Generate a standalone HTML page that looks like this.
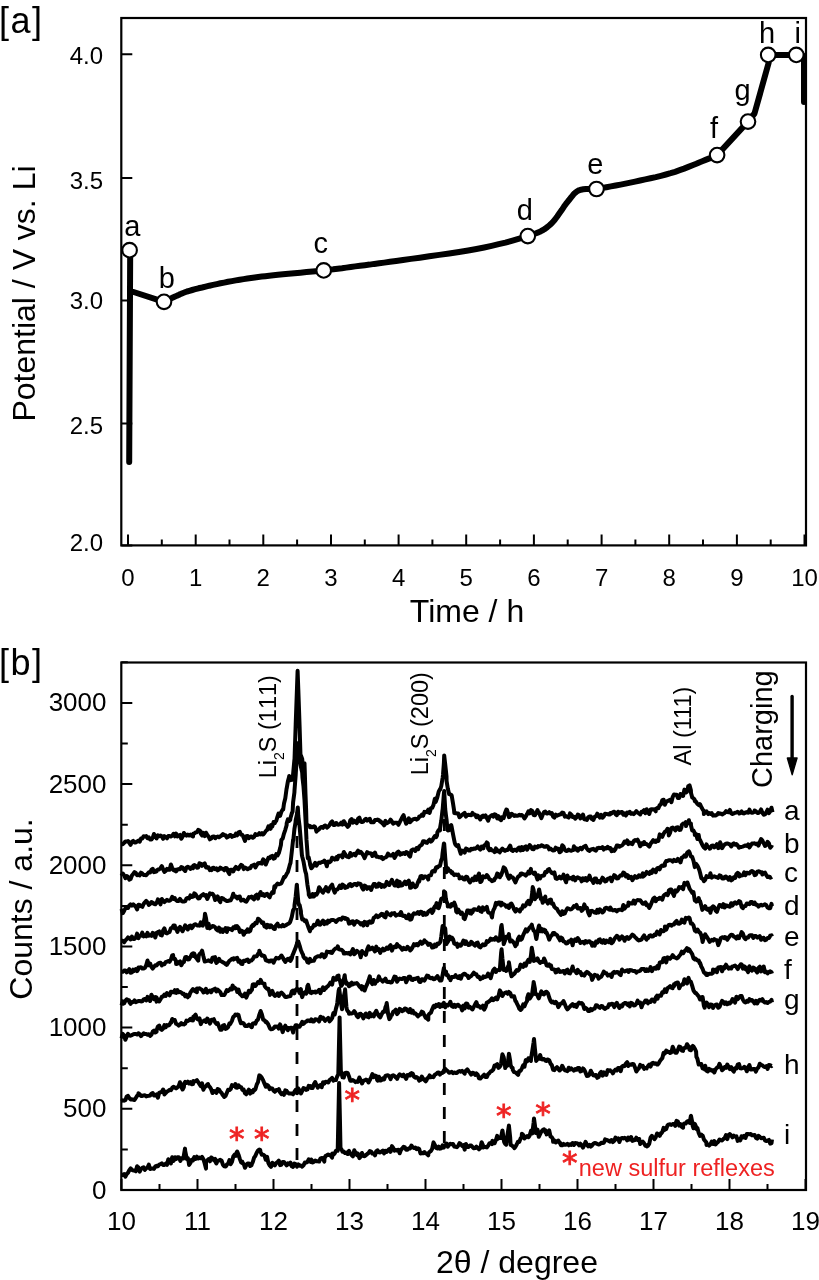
<!DOCTYPE html>
<html><head><meta charset="utf-8"><style>
html,body{margin:0;padding:0;background:#fff;}
svg{display:block;}
text{font-family:"Liberation Sans", Arial, Helvetica, sans-serif;fill:#000;}
.tl{font-size:24px;}
.tl2{font-size:26px;}
.ax{font-size:32px;}
.pl{font-size:36px;letter-spacing:1.5px;}
.lb{font-size:29px;}
.an{font-size:23.5px;font-kerning:none;}
.cb{font-size:28px;}
.cb2{font-size:23.5px;}
.cb3{font-size:29px;}
.ast{font-family:"DejaVu Sans",sans-serif;font-size:31px;fill:#ee2222;stroke:#ee2222;stroke-width:0.9px;}
.nsr{font-size:23.5px;fill:#ee2222;}
</style></head><body>
<svg width="819" height="1280" viewBox="0 0 819 1280">
<rect width="819" height="1280" fill="#fff"/>
<rect x="121.3" y="18.0" width="684.7" height="527.4" fill="none" stroke="#000" stroke-width="2.2"/>
<path d="M128.0 545.4V534.4M161.8 545.4V539.4M195.7 545.4V534.4M229.5 545.4V539.4M263.3 545.4V534.4M297.1 545.4V539.4M331.0 545.4V534.4M364.8 545.4V539.4M398.6 545.4V534.4M432.4 545.4V539.4M466.2 545.4V534.4M500.1 545.4V539.4M533.9 545.4V534.4M567.7 545.4V539.4M601.6 545.4V534.4M635.4 545.4V539.4M669.2 545.4V534.4M703.0 545.4V539.4M736.9 545.4V534.4M770.7 545.4V539.4M804.5 545.4V534.4M121.3 545.4H132.3M121.3 423.6H132.3M121.3 300.5H132.3M121.3 178.1H132.3M121.3 54.3H132.3" stroke="#000" stroke-width="2" fill="none"/>
<text x="128.0" y="586" text-anchor="middle" class="tl">0</text>
<text x="195.7" y="586" text-anchor="middle" class="tl">1</text>
<text x="263.3" y="586" text-anchor="middle" class="tl">2</text>
<text x="331.0" y="586" text-anchor="middle" class="tl">3</text>
<text x="398.6" y="586" text-anchor="middle" class="tl">4</text>
<text x="466.2" y="586" text-anchor="middle" class="tl">5</text>
<text x="533.9" y="586" text-anchor="middle" class="tl">6</text>
<text x="601.6" y="586" text-anchor="middle" class="tl">7</text>
<text x="669.2" y="586" text-anchor="middle" class="tl">8</text>
<text x="736.9" y="586" text-anchor="middle" class="tl">9</text>
<text x="804.5" y="586" text-anchor="middle" class="tl">10</text>
<text x="103" y="550.5" text-anchor="end" class="tl">2.0</text>
<text x="103" y="434.2" text-anchor="end" class="tl">2.5</text>
<text x="103" y="308.5" text-anchor="end" class="tl">3.0</text>
<text x="103" y="188.9" text-anchor="end" class="tl">3.5</text>
<text x="103" y="63.5" text-anchor="end" class="tl">4.0</text>
<text x="467" y="622" text-anchor="middle" class="ax">Time / h</text>
<text transform="translate(35,293.5) rotate(-90)" text-anchor="middle" class="ax">Potential / V vs. Li</text>
<text x="-1" y="33" class="pl">[a]</text>
<path d="M129.2 462 L130.2 250 M130.5 291 L164 301.8 M164.0 301.8 L164.9 301.4 L166.0 300.8 L167.4 300.1 L168.9 299.4 L170.6 298.6 L172.3 297.8 L174.0 297.0 L175.6 296.3 L177.1 295.6 L178.6 295.0 L180.0 294.3 L181.5 293.6 L183.1 293.0 L184.9 292.3 L187.0 291.5 L189.4 290.8 L192.2 290.0 L195.2 289.2 L198.5 288.3 L202.1 287.5 L205.7 286.6 L209.4 285.7 L213.1 284.9 L216.8 284.1 L220.5 283.3 L224.2 282.6 L228.0 281.8 L231.9 281.1 L235.8 280.4 L239.7 279.7 L243.6 279.1 L247.4 278.5 L251.1 278.0 L254.7 277.5 L258.2 277.0 L261.7 276.6 L265.3 276.2 L269.2 275.7 L273.4 275.3 L277.9 274.8 L283.0 274.3 L288.5 273.8 L294.4 273.2 L300.4 272.7 L306.5 272.1 L312.6 271.5 L318.3 271.0 L323.7 270.4 L328.6 269.8 L333.3 269.3 L337.7 268.7 L342.0 268.2 L346.3 267.6 L350.7 267.0 L355.2 266.4 L360.0 265.8 L364.8 265.2 L369.6 264.6 L374.3 263.9 L379.2 263.3 L384.3 262.6 L389.9 261.8 L396.1 261.0 L403.0 260.0 L410.9 258.9 L419.8 257.7 L429.3 256.3 L439.2 254.9 L449.2 253.5 L459.0 252.0 L468.2 250.5 L476.5 249.0 L484.2 247.5 L491.6 245.9 L498.7 244.2 L505.4 242.6 L511.7 240.9 L517.6 239.2 L522.9 237.6 L527.8 236.1 L532.0 234.7 L535.4 233.5 L538.4 232.4 L540.9 231.2 L543.1 230.0 L545.3 228.6 L547.4 227.0 L549.8 225.0 L552.3 222.6 L554.8 219.7 L557.2 216.5 L559.6 213.1 L561.9 209.8 L564.0 206.6 L566.1 203.7 L568.0 201.3 L569.7 199.3 L571.1 197.4 L572.4 195.8 L573.5 194.4 L574.7 193.2 L576.0 192.1 L577.4 191.1 L579.0 190.3 L581.0 189.7 L583.3 189.3 L585.9 189.0 L588.4 189.0 L590.9 189.0 L593.2 189.0 L595.1 189.0 L596.5 189.0 M596.5 189.0 L599.1 188.5 L602.4 187.9 L606.4 187.2 L610.9 186.4 L615.7 185.5 L620.6 184.6 L625.5 183.6 L630.3 182.6 L635.1 181.6 L640.1 180.5 L645.3 179.4 L650.5 178.3 L655.8 177.1 L660.9 175.8 L665.9 174.5 L670.6 173.2 L675.1 171.8 L679.7 170.2 L684.1 168.6 L688.4 166.9 L692.5 165.2 L696.3 163.7 L699.8 162.2 L702.9 161.0 L705.6 159.9 L708.1 158.9 L710.2 158.1 L712.0 157.3 L713.6 156.6 L715.0 156.0 L716.1 155.5 L717.1 155.1 L748 121.6 L754.5 113.5 L768.6 63 L768.2 54.9 L796.3 54.9 L804 56 L804 102" fill="none" stroke="#000" stroke-width="6" stroke-linejoin="round" stroke-linecap="round"/>
<circle cx="129.6" cy="250.2" r="7.3" fill="#fff" stroke="#000" stroke-width="2.1"/>
<circle cx="164" cy="301.8" r="7.3" fill="#fff" stroke="#000" stroke-width="2.1"/>
<circle cx="323.7" cy="270.4" r="7.3" fill="#fff" stroke="#000" stroke-width="2.1"/>
<circle cx="527.8" cy="236.1" r="7.3" fill="#fff" stroke="#000" stroke-width="2.1"/>
<circle cx="596.5" cy="189" r="7.3" fill="#fff" stroke="#000" stroke-width="2.1"/>
<circle cx="717.1" cy="155.1" r="7.3" fill="#fff" stroke="#000" stroke-width="2.1"/>
<circle cx="748" cy="121.6" r="7.3" fill="#fff" stroke="#000" stroke-width="2.1"/>
<circle cx="768.2" cy="54.9" r="7.3" fill="#fff" stroke="#000" stroke-width="2.1"/>
<circle cx="796.3" cy="54.9" r="7.3" fill="#fff" stroke="#000" stroke-width="2.1"/>
<text x="132.2" y="236" text-anchor="middle" class="lb">a</text>
<text x="166.7" y="287.5" text-anchor="middle" class="lb">b</text>
<text x="320.8" y="253.3" text-anchor="middle" class="lb">c</text>
<text x="524.8" y="219.5" text-anchor="middle" class="lb">d</text>
<text x="595.3" y="173.8" text-anchor="middle" class="lb">e</text>
<text x="714" y="138" text-anchor="middle" class="lb">f</text>
<text x="742.5" y="99.5" text-anchor="middle" class="lb">g</text>
<text x="767" y="42.8" text-anchor="middle" class="lb">h</text>
<text x="797.7" y="42.8" text-anchor="middle" class="lb">i</text>
<rect x="121.3" y="662.5" width="684.7" height="527.5" fill="none" stroke="#000" stroke-width="2.2"/>
<path d="M121.5 1190.0V1179.0M159.5 1190.0V1184.0M197.5 1190.0V1179.0M235.5 1190.0V1184.0M273.5 1190.0V1179.0M311.5 1190.0V1184.0M349.5 1190.0V1179.0M387.5 1190.0V1184.0M425.5 1190.0V1179.0M463.5 1190.0V1184.0M501.5 1190.0V1179.0M539.5 1190.0V1184.0M577.5 1190.0V1179.0M615.5 1190.0V1184.0M653.5 1190.0V1179.0M691.5 1190.0V1184.0M729.5 1190.0V1179.0M767.5 1190.0V1184.0M805.5 1190.0V1179.0M121.3 1190.0H132.3M121.3 1149.4H127.8M121.3 1108.8H132.3M121.3 1068.2H127.8M121.3 1027.6H132.3M121.3 987.0H127.8M121.3 946.5H132.3M121.3 905.9H127.8M121.3 865.3H132.3M121.3 824.7H127.8M121.3 784.1H132.3M121.3 743.5H127.8M121.3 702.9H132.3M121.3 662.3H127.8" stroke="#000" stroke-width="2" fill="none"/>
<text x="121.5" y="1230" text-anchor="middle" class="tl2">10</text>
<text x="197.5" y="1230" text-anchor="middle" class="tl2">11</text>
<text x="273.5" y="1230" text-anchor="middle" class="tl2">12</text>
<text x="349.5" y="1230" text-anchor="middle" class="tl2">13</text>
<text x="425.5" y="1230" text-anchor="middle" class="tl2">14</text>
<text x="501.5" y="1230" text-anchor="middle" class="tl2">15</text>
<text x="577.5" y="1230" text-anchor="middle" class="tl2">16</text>
<text x="653.5" y="1230" text-anchor="middle" class="tl2">17</text>
<text x="729.5" y="1230" text-anchor="middle" class="tl2">18</text>
<text x="805.5" y="1230" text-anchor="middle" class="tl2">19</text>
<text x="106.5" y="1198.5" text-anchor="end" class="tl2">0</text>
<text x="106.5" y="1117.3" text-anchor="end" class="tl2">500</text>
<text x="106.5" y="1036.1" text-anchor="end" class="tl2">1000</text>
<text x="106.5" y="955.0" text-anchor="end" class="tl2">1500</text>
<text x="106.5" y="873.8" text-anchor="end" class="tl2">2000</text>
<text x="106.5" y="792.6" text-anchor="end" class="tl2">2500</text>
<text x="106.5" y="711.4" text-anchor="end" class="tl2">3000</text>
<text x="517" y="1272.8" text-anchor="middle" class="ax">2θ / degree</text>
<text transform="translate(32,909) rotate(-90)" text-anchor="middle" class="ax">Counts / a.u.</text>
<text x="-1" y="674.5" class="pl">[b]</text>
<path d="M297 812 V1160" stroke="#000" stroke-width="2.8" stroke-dasharray="12 12" fill="none"/>
<path d="M444.3 795 V1143" stroke="#000" stroke-width="2.8" stroke-dasharray="12 12" fill="none"/>
<path d="M121.5 844.0 L122.8 844.2 L124.1 842.8 L125.4 841.4 L126.7 841.6 L128.0 841.0 L129.3 842.9 L130.6 844.8 L131.9 841.7 L133.2 840.9 L134.5 842.6 L135.8 842.5 L137.1 841.4 L138.3 840.7 L138.4 841.0 L139.7 841.7 L141.0 838.4 L142.3 838.5 L143.6 836.3 L144.9 836.4 L146.2 836.1 L147.5 838.2 L148.8 837.4 L150.1 839.5 L151.4 839.6 L152.7 837.8 L154.0 834.0 L155.3 836.7 L156.6 838.2 L156.6 838.4 L157.9 835.4 L159.2 836.3 L160.5 835.6 L161.8 836.3 L163.1 838.8 L164.4 836.2 L165.7 837.1 L167.0 838.3 L168.3 836.0 L169.6 836.1 L170.9 836.5 L172.2 835.8 L173.5 833.8 L174.8 835.9 L175.0 836.3 L176.1 833.6 L177.4 836.5 L178.7 835.6 L180.0 834.9 L181.3 838.8 L182.6 836.7 L183.9 833.0 L185.2 834.6 L186.5 835.6 L187.8 834.6 L189.1 835.5 L190.4 834.6 L191.7 835.8 L193.0 836.5 L193.3 833.7 L194.3 833.5 L195.6 832.4 L196.9 832.3 L198.2 829.9 L199.5 830.3 L200.6 831.4 L200.8 833.8 L202.1 835.4 L203.4 832.9 L204.0 835.5 L204.7 836.2 L206.0 832.7 L207.3 834.8 L208.6 836.7 L209.9 839.3 L211.2 838.6 L212.5 836.7 L213.8 836.4 L215.1 837.5 L215.2 838.3 L216.4 837.0 L217.7 836.5 L219.0 837.3 L220.3 836.4 L221.6 835.5 L222.9 834.0 L224.2 835.2 L225.5 835.3 L226.8 837.6 L228.1 836.8 L229.4 835.4 L229.9 835.1 L230.7 835.0 L232.0 836.9 L233.3 835.9 L234.6 836.1 L235.9 833.7 L237.2 835.3 L238.5 832.3 L239.8 831.8 L241.1 834.8 L242.4 834.9 L243.7 837.7 L245.0 840.9 L246.3 836.3 L247.6 836.0 L248.2 837.6 L248.9 838.2 L250.2 836.8 L251.5 836.5 L252.8 837.8 L254.1 836.9 L255.4 834.1 L256.7 834.9 L258.0 834.8 L259.3 833.1 L260.6 834.3 L261.9 833.2 L262.9 834.5 L263.2 834.6 L264.5 833.0 L265.8 831.0 L267.1 830.0 L268.4 826.3 L269.7 826.9 L270.6 828.8 L271.0 825.0 L272.3 826.5 L273.6 822.0 L274.9 823.0 L275.3 821.7 L276.2 821.0 L277.5 816.6 L278.5 813.6 L278.8 816.2 L280.1 815.8 L281.4 811.7 L282.7 809.5 L283.2 809.4 L284.0 803.4 L285.3 798.3 L286.6 788.5 L286.7 788.3 L287.9 781.3 L289.0 777.4 L289.2 776.0 L290.5 780.2 L291.8 779.5 L292.6 779.7 L293.1 774.3 L294.4 759.6 L294.5 759.7 L295.7 724.4 L297.0 687.9 L297.6 670.8 L298.3 689.3 L299.0 709.1 L299.6 726.6 L300.5 755.7 L300.9 755.4 L302.2 758.9 L302.5 762.2 L303.5 765.1 L304.5 763.3 L304.8 772.1 L305.5 794.4 L306.1 809.1 L306.5 823.9 L307.4 824.8 L308.7 825.7 L310.0 825.9 L310.1 827.3 L311.3 826.8 L312.6 827.3 L313.9 826.2 L315.2 827.2 L316.5 831.6 L317.5 830.2 L317.8 830.4 L319.1 829.2 L320.4 827.5 L321.7 826.9 L323.0 827.8 L324.3 825.8 L325.3 825.5 L325.6 826.0 L326.9 827.6 L328.2 826.6 L329.5 825.2 L330.8 822.6 L332.1 821.3 L333.4 824.9 L334.7 825.0 L336.0 822.9 L336.3 822.9 L337.3 824.5 L338.6 824.7 L339.9 824.3 L341.2 822.6 L342.5 824.6 L343.8 821.2 L345.0 822.9 L345.1 824.1 L346.4 825.0 L347.7 826.8 L349.0 825.4 L350.3 820.2 L351.6 819.1 L352.9 822.7 L354.2 820.7 L355.5 822.1 L356.8 823.1 L358.1 818.6 L359.4 817.7 L360.7 821.7 L362.0 822.1 L363.0 821.9 L363.3 821.6 L364.6 819.9 L365.9 818.8 L367.2 820.7 L368.5 819.5 L369.8 818.8 L371.1 822.3 L372.4 822.2 L373.7 822.3 L375.0 820.1 L376.3 820.0 L377.6 819.6 L378.9 820.1 L380.2 821.7 L381.0 821.6 L381.5 822.5 L382.8 823.6 L384.1 825.4 L385.4 820.8 L386.7 823.3 L388.0 822.5 L389.3 821.8 L390.6 819.6 L391.9 821.4 L393.2 823.7 L394.5 822.8 L395.8 822.7 L397.1 822.7 L398.4 824.8 L399.7 822.4 L400.0 821.6 L401.0 819.8 L402.3 817.2 L403.6 815.2 L404.9 820.1 L406.2 823.7 L407.5 821.3 L408.8 818.4 L410.0 820.1 L410.1 822.3 L411.4 820.8 L412.7 819.6 L414.0 818.9 L415.3 818.8 L416.6 819.6 L417.9 818.8 L419.2 817.1 L419.2 816.4 L420.5 816.4 L421.8 814.7 L423.1 815.8 L424.4 811.8 L425.7 812.2 L427.0 811.6 L428.3 809.7 L428.3 812.4 L429.6 812.9 L430.9 808.2 L432.2 807.9 L433.5 804.9 L434.8 798.8 L435.6 802.1 L436.1 800.9 L437.4 797.0 L438.7 791.6 L440.0 789.1 L440.2 789.5 L441.3 786.0 L442.6 778.0 L443.0 775.0 L443.9 763.0 L444.2 755.4 L445.2 764.3 L446.5 776.4 L446.6 781.1 L447.8 788.5 L449.1 794.0 L449.4 793.6 L450.4 794.6 L451.5 795.1 L451.7 795.7 L453.0 803.3 L454.0 809.8 L454.3 813.0 L455.6 813.2 L456.9 813.2 L457.6 813.8 L458.2 813.5 L459.5 817.3 L460.8 816.2 L462.1 814.9 L463.4 813.9 L464.7 812.9 L465.0 815.0 L466.0 816.6 L467.3 814.9 L468.6 814.8 L469.9 815.1 L471.2 815.2 L472.5 812.9 L473.8 814.6 L475.1 814.8 L476.4 817.2 L477.7 815.5 L479.0 817.8 L480.3 819.5 L481.6 816.5 L482.9 815.7 L483.3 816.9 L484.2 816.6 L485.5 815.3 L486.8 818.1 L488.1 820.7 L489.4 817.1 L490.7 816.0 L492.0 815.0 L493.3 816.6 L494.6 814.3 L495.9 814.9 L497.2 818.4 L498.5 816.2 L499.8 819.1 L501.1 820.2 L501.6 817.3 L502.4 817.8 L503.7 818.1 L505.0 813.0 L506.3 809.6 L507.0 809.7 L507.6 811.7 L508.9 817.1 L510.0 816.6 L510.2 814.3 L511.5 813.7 L512.8 814.6 L514.1 815.9 L515.4 815.3 L516.7 815.8 L518.0 815.8 L519.3 814.7 L520.0 815.1 L520.6 815.4 L521.9 815.0 L523.2 816.4 L524.5 818.5 L525.8 816.4 L527.1 814.1 L528.4 811.4 L529.7 813.4 L531.0 810.1 L532.3 810.9 L533.6 815.0 L534.9 815.2 L536.2 812.8 L537.5 810.1 L538.2 812.8 L538.8 812.2 L540.1 815.3 L541.4 818.1 L542.7 814.7 L544.0 812.1 L545.3 811.5 L546.6 813.5 L547.9 813.4 L549.2 812.2 L550.5 813.8 L551.8 813.0 L553.1 816.7 L554.4 817.6 L555.0 815.6 L555.7 814.7 L557.0 815.8 L558.3 815.1 L559.6 814.5 L560.9 814.2 L562.2 812.6 L563.5 813.0 L564.8 816.7 L566.1 816.1 L567.4 816.9 L568.7 817.6 L570.0 813.4 L571.3 814.6 L572.6 816.9 L573.3 817.0 L573.9 816.7 L575.2 818.7 L576.5 817.3 L577.8 814.5 L579.1 815.2 L580.4 818.4 L581.7 817.6 L583.0 814.5 L584.3 819.3 L585.6 819.5 L586.9 820.0 L588.2 817.2 L589.5 816.5 L590.8 816.5 L591.6 818.9 L592.1 818.9 L593.4 820.0 L594.7 816.7 L596.0 816.4 L597.3 813.7 L598.6 815.7 L599.9 817.6 L601.2 814.8 L602.5 817.6 L603.8 816.5 L605.1 813.7 L606.4 813.9 L607.7 814.2 L609.0 814.6 L610.0 814.5 L610.3 813.0 L611.6 813.5 L612.9 812.1 L614.2 811.7 L615.5 814.1 L616.8 815.2 L618.1 811.7 L619.4 813.1 L620.7 812.3 L622.0 812.0 L623.3 814.6 L624.6 813.4 L625.9 815.6 L627.2 812.5 L628.3 813.2 L628.5 812.5 L629.8 811.9 L631.1 813.8 L632.4 813.3 L633.7 814.1 L635.0 812.8 L636.3 811.1 L637.6 812.5 L638.9 813.5 L640.2 814.5 L641.5 811.8 L642.8 812.0 L644.1 810.2 L645.4 813.2 L646.6 812.4 L646.7 809.3 L648.0 812.4 L649.3 814.0 L650.6 809.5 L651.9 809.2 L653.2 809.6 L654.5 809.3 L655.7 811.3 L655.8 809.6 L657.1 808.0 L658.4 808.2 L659.7 805.0 L661.0 804.4 L661.2 803.4 L662.3 800.1 L663.6 799.7 L664.9 804.7 L666.2 801.7 L667.5 801.2 L668.8 800.3 L670.1 799.8 L670.4 799.7 L671.4 802.2 L672.7 796.9 L674.0 794.6 L675.3 794.8 L676.6 794.8 L677.9 798.0 L679.2 797.9 L680.5 794.0 L681.4 794.8 L681.8 794.8 L683.1 796.0 L684.4 789.6 L685.7 792.6 L686.0 792.6 L687.0 791.7 L688.3 786.0 L688.8 786.0 L689.6 785.4 L690.9 790.2 L691.0 793.0 L692.2 797.4 L693.5 798.3 L694.8 800.0 L694.8 801.3 L696.1 801.9 L697.4 804.0 L698.7 805.0 L699.3 805.4 L700.0 804.2 L701.3 807.0 L702.6 809.3 L703.8 811.0 L703.9 814.1 L705.2 811.7 L706.5 811.3 L707.8 813.4 L708.2 814.1 L709.1 813.0 L710.4 813.9 L711.7 813.1 L713.0 815.6 L714.3 815.2 L715.6 815.5 L716.9 814.8 L717.1 814.8 L718.2 813.0 L719.5 813.8 L720.8 813.5 L722.1 814.5 L723.4 813.6 L724.5 813.1 L724.7 812.9 L726.0 811.1 L727.3 812.0 L728.6 812.2 L729.9 809.9 L731.2 813.2 L732.5 814.0 L733.8 813.4 L735.1 812.8 L736.4 812.6 L737.7 811.8 L739.0 812.7 L739.4 813.5 L740.3 813.1 L741.6 811.4 L742.9 813.3 L744.2 813.4 L745.5 812.5 L746.8 812.1 L748.1 812.7 L749.4 809.7 L750.7 812.4 L752.0 812.7 L753.3 812.5 L754.2 811.8 L754.6 810.5 L755.9 811.2 L757.2 812.9 L758.5 812.9 L759.8 811.8 L761.1 809.4 L762.4 812.8 L763.7 814.7 L765.0 814.4 L766.3 812.3 L767.6 809.7 L768.9 813.2 L770.2 811.3 L771.5 807.7 L772.5 812.2" fill="none" stroke="#000" stroke-width="4.0" stroke-linejoin="round"/>
<path d="M121.5 875.9 L122.8 873.5 L124.1 875.3 L125.4 878.2 L126.7 876.0 L128.0 876.9 L129.3 879.6 L130.6 879.0 L131.9 875.6 L133.2 874.0 L134.5 872.1 L135.8 873.0 L137.1 875.1 L138.3 874.5 L138.4 874.9 L139.7 875.5 L141.0 872.7 L142.3 873.5 L143.6 874.9 L144.9 875.0 L146.2 875.3 L147.5 873.8 L148.8 872.3 L150.1 872.5 L151.4 869.9 L152.7 868.8 L154.0 872.2 L155.3 871.8 L156.6 871.3 L156.6 870.5 L157.9 869.6 L159.2 869.4 L160.5 868.1 L161.8 866.1 L163.1 869.3 L164.4 871.9 L165.7 870.9 L167.0 868.9 L168.3 869.7 L169.6 869.8 L170.9 864.5 L172.2 868.0 L173.5 870.1 L174.8 870.8 L175.0 869.8 L176.1 871.4 L177.4 869.5 L178.7 869.1 L180.0 869.3 L181.3 867.0 L182.6 867.6 L183.9 869.7 L185.2 871.0 L186.5 867.4 L187.8 866.7 L189.1 867.4 L190.4 868.9 L191.7 867.2 L193.0 868.2 L193.3 865.5 L194.3 865.1 L195.6 865.8 L196.9 867.7 L198.2 867.5 L199.5 863.2 L200.8 863.8 L202.1 865.9 L203.4 864.2 L204.7 863.3 L206.0 867.4 L206.0 866.3 L207.3 867.7 L208.6 867.3 L209.9 870.1 L211.2 869.7 L211.6 870.1 L212.5 868.0 L213.8 867.7 L215.1 869.2 L216.4 868.4 L217.7 870.4 L219.0 869.6 L220.3 867.6 L221.6 868.7 L222.9 868.8 L224.2 870.3 L225.5 868.0 L226.8 868.3 L228.1 871.7 L229.4 874.1 L229.9 870.1 L230.7 869.7 L232.0 869.7 L233.3 871.5 L234.6 868.7 L235.9 866.9 L237.2 868.7 L238.5 869.2 L239.8 866.7 L241.1 864.8 L242.4 865.7 L243.7 869.1 L245.0 867.5 L246.3 868.2 L247.6 869.3 L248.2 869.0 L248.9 868.2 L250.2 868.3 L251.5 865.8 L252.8 865.4 L254.1 864.7 L255.4 867.4 L256.7 865.3 L258.0 863.2 L259.3 863.1 L260.6 863.3 L261.9 863.6 L262.0 862.1 L263.2 859.3 L264.5 860.7 L265.8 864.5 L267.1 861.2 L268.4 857.8 L269.7 858.3 L270.0 857.2 L271.0 856.3 L272.3 855.9 L273.6 858.6 L274.9 858.1 L275.0 856.9 L276.2 854.2 L277.5 855.5 L278.8 853.1 L280.1 848.4 L280.9 845.0 L281.4 839.8 L282.7 838.5 L284.0 833.6 L285.3 829.8 L286.6 825.3 L286.7 823.4 L287.9 819.4 L289.2 820.9 L290.2 819.8 L290.5 818.0 L291.8 813.4 L292.6 811.5 L293.1 802.3 L294.4 792.6 L294.5 790.4 L295.7 774.9 L296.5 761.2 L297.0 756.4 L298.3 742.9 L298.5 744.2 L299.6 753.3 L300.5 764.6 L300.9 766.8 L302.2 772.6 L302.5 777.8 L303.5 786.5 L304.5 800.0 L304.8 805.8 L306.1 831.4 L306.5 839.9 L307.4 851.8 L307.8 858.2 L308.7 857.3 L310.0 863.3 L310.1 864.7 L311.3 868.3 L312.6 866.9 L313.9 864.9 L315.2 862.9 L316.5 865.6 L317.8 863.7 L318.3 863.1 L319.1 862.6 L320.4 862.9 L321.7 862.1 L323.0 862.0 L324.3 860.5 L325.6 862.3 L326.9 866.3 L327.5 862.5 L328.2 861.6 L329.5 862.2 L330.8 861.4 L332.1 857.7 L333.4 858.3 L334.7 859.6 L336.0 858.1 L336.6 857.1 L337.3 859.3 L338.6 855.8 L339.9 855.8 L341.2 855.5 L342.5 857.3 L343.8 852.0 L345.0 854.3 L345.1 854.0 L346.4 856.2 L347.7 856.9 L349.0 857.2 L350.3 853.0 L351.6 855.6 L352.9 854.5 L354.2 853.9 L355.5 855.4 L356.8 852.7 L358.1 850.7 L359.4 852.9 L360.7 851.9 L362.0 853.4 L363.3 855.5 L363.3 855.4 L364.6 858.1 L365.9 854.9 L367.2 852.2 L368.5 853.2 L369.8 853.2 L371.1 853.4 L372.4 856.0 L373.7 854.2 L375.0 852.6 L376.3 856.7 L377.6 856.6 L378.9 857.2 L380.2 857.2 L381.5 858.0 L381.6 857.0 L382.8 859.1 L384.1 858.0 L385.4 857.5 L386.7 856.6 L388.0 853.6 L389.3 855.1 L390.6 855.5 L391.9 855.5 L393.2 853.9 L394.5 858.0 L395.8 855.8 L397.1 852.5 L398.4 851.5 L399.7 853.8 L400.0 854.8 L401.0 853.4 L402.3 853.9 L403.6 853.0 L404.9 854.0 L406.2 852.0 L407.5 852.8 L408.8 855.1 L410.1 856.6 L411.4 850.5 L412.7 849.6 L414.0 849.4 L415.3 851.0 L416.6 848.0 L417.9 848.2 L418.2 849.3 L419.2 846.6 L420.5 845.5 L421.8 844.7 L423.1 841.2 L424.4 841.2 L425.7 842.6 L427.0 842.9 L428.3 840.9 L429.2 840.2 L429.6 839.7 L430.9 841.6 L432.2 840.5 L433.5 838.1 L434.8 836.1 L436.1 837.2 L437.0 835.6 L437.4 832.3 L438.7 830.1 L440.0 830.4 L440.0 828.4 L441.3 820.7 L442.5 810.0 L442.6 810.2 L443.9 793.6 L444.2 791.1 L445.2 809.1 L446.0 815.7 L446.5 819.3 L447.5 829.6 L447.8 830.4 L449.1 830.3 L450.4 825.8 L451.2 825.1 L451.7 827.1 L453.0 834.1 L454.3 840.6 L454.9 843.4 L455.6 844.8 L456.9 846.1 L458.2 845.0 L459.5 849.8 L460.8 853.8 L461.3 850.6 L462.1 850.7 L463.4 850.8 L464.7 852.6 L466.0 848.5 L467.3 849.0 L468.6 850.4 L469.9 850.6 L471.2 848.7 L472.5 849.3 L473.8 848.5 L475.1 848.8 L476.4 848.0 L477.7 846.4 L479.0 848.3 L480.3 849.6 L481.6 846.7 L482.9 847.6 L483.3 848.3 L484.2 845.4 L485.5 844.9 L486.8 842.4 L487.8 843.4 L488.1 848.6 L489.4 850.2 L490.7 848.9 L491.6 850.3 L492.0 850.4 L493.3 850.7 L494.6 852.1 L495.9 848.4 L497.2 851.1 L498.5 850.6 L499.8 852.3 L501.1 850.2 L502.4 848.5 L503.7 850.0 L505.0 850.9 L506.3 850.0 L507.6 850.1 L508.9 847.8 L510.2 845.6 L511.5 850.3 L512.8 850.9 L514.1 849.8 L515.4 849.7 L516.7 850.8 L518.0 848.4 L519.3 847.5 L520.0 849.0 L520.6 850.5 L521.9 847.1 L523.2 849.9 L524.5 847.2 L525.8 846.3 L527.1 849.7 L528.4 847.5 L529.7 845.0 L531.0 846.5 L532.3 849.1 L533.6 849.3 L534.9 846.6 L536.2 847.4 L537.5 847.5 L538.2 846.0 L538.8 846.6 L540.1 846.3 L541.4 845.3 L542.7 845.6 L544.0 846.7 L545.3 846.8 L546.6 845.9 L547.9 846.6 L549.2 849.3 L550.5 848.6 L551.8 849.7 L553.1 850.5 L554.4 850.3 L555.0 849.1 L555.7 847.7 L557.0 849.1 L558.3 848.7 L559.6 852.3 L560.9 851.5 L562.2 845.3 L563.5 846.5 L564.8 850.0 L566.1 851.0 L567.4 850.7 L568.7 849.6 L570.0 850.4 L571.3 850.8 L572.6 850.1 L573.3 850.0 L573.9 846.2 L575.2 849.5 L576.5 848.3 L577.8 850.7 L579.1 849.0 L580.4 847.8 L581.7 849.3 L583.0 847.4 L584.3 846.5 L585.6 845.9 L586.9 848.6 L588.2 850.3 L589.5 850.9 L590.8 849.4 L591.6 849.4 L592.1 849.2 L593.4 848.8 L594.7 850.1 L596.0 850.6 L597.3 848.2 L598.6 847.8 L599.9 848.0 L601.2 848.1 L602.5 847.1 L603.8 849.6 L605.1 848.0 L606.4 848.4 L607.7 846.8 L609.0 848.4 L610.0 848.1 L610.3 848.0 L611.6 851.2 L612.9 849.5 L614.2 850.8 L615.5 849.0 L616.8 845.5 L618.1 845.5 L619.4 846.7 L620.7 846.0 L622.0 845.5 L623.3 844.0 L624.6 841.5 L625.9 842.7 L627.2 840.4 L628.3 844.1 L628.5 842.7 L629.8 842.5 L631.1 843.6 L632.4 844.1 L633.7 841.0 L635.0 840.0 L636.3 840.8 L637.6 839.7 L638.9 842.3 L640.2 846.3 L641.5 843.2 L642.8 844.4 L644.1 842.1 L645.4 844.1 L646.6 844.1 L646.7 844.1 L648.0 845.3 L649.3 846.6 L650.6 843.7 L651.9 842.0 L653.2 840.1 L654.5 841.7 L655.7 840.6 L655.8 841.9 L657.1 840.4 L658.4 840.9 L659.7 834.4 L661.0 835.5 L662.3 836.8 L663.6 833.8 L664.9 831.7 L666.2 831.0 L667.5 828.8 L668.6 830.7 L668.8 835.4 L670.1 832.8 L671.4 828.0 L672.7 827.5 L674.0 828.7 L675.3 830.4 L676.6 827.4 L677.9 827.3 L679.2 829.9 L680.5 829.8 L681.4 827.6 L681.8 824.9 L683.1 823.6 L684.4 823.9 L685.7 822.1 L686.0 826.1 L687.0 822.9 L688.3 821.8 L688.9 820.2 L689.6 823.4 L690.9 823.4 L691.0 825.5 L692.2 830.4 L693.5 830.5 L694.8 833.2 L694.8 834.9 L696.1 834.2 L697.4 839.0 L698.7 835.0 L699.3 838.9 L700.0 839.9 L701.3 842.6 L702.6 845.5 L703.8 847.3 L703.9 847.4 L705.2 848.7 L706.5 844.4 L707.8 847.1 L709.1 847.3 L709.7 848.7 L710.4 848.4 L711.7 845.7 L713.0 845.6 L714.3 847.4 L715.6 846.0 L716.9 844.2 L718.2 848.1 L719.5 847.5 L720.1 842.2 L720.8 843.8 L722.1 848.2 L723.4 846.0 L724.7 844.5 L726.0 843.7 L727.3 843.4 L728.6 844.0 L729.9 844.4 L731.2 846.5 L732.0 845.5 L732.5 844.3 L733.8 843.3 L735.1 844.8 L736.4 844.0 L737.7 845.4 L739.0 847.7 L740.3 847.0 L741.6 846.9 L742.9 846.6 L744.2 845.9 L745.5 845.4 L746.8 845.4 L746.8 846.0 L748.1 844.4 L749.4 847.4 L750.7 845.5 L752.0 843.5 L753.3 843.4 L754.6 843.3 L755.9 844.2 L757.2 843.5 L758.5 845.6 L759.8 842.1 L761.1 839.0 L762.4 840.6 L763.1 842.3 L763.7 843.2 L765.0 846.0 L766.3 845.1 L767.6 841.8 L768.9 843.3 L770.2 847.8 L771.5 846.2 L772.0 845.0" fill="none" stroke="#000" stroke-width="4.0" stroke-linejoin="round"/>
<path d="M121.5 908.9 L122.8 913.2 L124.1 911.0 L125.4 908.3 L126.7 908.1 L128.0 908.0 L129.3 905.5 L130.6 904.4 L131.9 905.6 L133.2 904.4 L134.5 905.5 L135.8 906.8 L137.1 909.5 L138.3 905.1 L138.4 904.7 L139.7 905.0 L141.0 906.2 L142.3 906.8 L143.6 904.0 L144.9 902.3 L146.2 900.9 L147.5 902.3 L148.8 904.9 L150.1 904.0 L151.4 902.0 L152.7 902.8 L154.0 903.9 L155.3 904.3 L156.6 902.5 L156.6 903.1 L157.9 899.4 L159.2 900.8 L160.5 904.4 L161.8 899.0 L163.1 900.8 L164.4 902.1 L165.7 900.8 L167.0 899.8 L168.3 900.7 L169.6 900.8 L170.9 899.7 L172.2 896.9 L173.5 898.8 L174.8 898.0 L175.0 899.4 L176.1 900.1 L177.4 901.1 L178.7 900.9 L180.0 898.9 L181.3 900.8 L182.6 901.6 L183.9 901.6 L185.2 901.2 L186.5 898.3 L187.8 897.9 L189.1 898.6 L190.4 895.4 L191.7 897.0 L193.0 896.1 L193.3 896.6 L194.3 893.3 L195.6 894.4 L196.9 896.5 L198.2 898.4 L199.5 898.3 L200.8 896.1 L202.1 895.1 L203.4 894.2 L204.7 895.7 L206.0 895.1 L206.0 895.7 L207.3 899.0 L208.6 896.1 L209.9 893.3 L211.2 894.1 L212.5 893.8 L213.8 895.4 L215.1 900.0 L216.4 898.8 L217.7 896.4 L219.0 900.4 L220.3 902.1 L220.7 899.7 L221.6 898.0 L222.9 898.4 L224.2 899.5 L225.5 900.2 L226.8 901.0 L228.1 900.9 L229.4 900.5 L230.7 900.2 L232.0 897.8 L233.3 893.7 L233.6 896.0 L234.6 896.8 L235.9 896.5 L237.2 898.5 L238.5 896.7 L239.8 896.5 L241.1 900.6 L242.4 900.2 L243.7 899.7 L245.0 901.2 L246.3 901.8 L247.6 899.7 L248.2 898.4 L248.9 897.1 L250.2 897.5 L251.5 896.5 L252.8 898.3 L254.1 899.3 L255.4 895.8 L256.7 894.7 L258.0 898.7 L259.3 894.5 L260.6 892.1 L261.0 894.3 L261.9 895.1 L263.2 894.0 L264.5 896.0 L265.8 894.4 L267.1 893.8 L268.4 896.1 L269.7 897.4 L270.0 896.0 L271.0 894.2 L272.3 892.0 L273.6 892.8 L274.4 886.2 L274.9 887.9 L276.2 885.0 L277.5 883.6 L278.8 884.2 L280.1 883.9 L281.4 883.2 L282.7 880.2 L284.0 877.1 L284.4 877.7 L285.3 876.6 L286.6 874.1 L287.9 871.9 L289.2 867.3 L289.9 864.6 L290.5 863.1 L291.8 851.6 L293.1 839.6 L293.3 840.4 L294.4 829.2 L295.5 822.6 L295.7 820.2 L297.0 814.2 L297.8 807.4 L298.3 815.8 L299.5 825.7 L299.6 826.4 L300.9 842.1 L301.9 855.0 L302.2 856.5 L303.5 861.5 L304.8 868.8 L305.3 871.4 L306.1 873.8 L307.4 884.6 L308.7 892.5 L308.8 894.8 L310.0 896.9 L311.3 896.5 L312.2 896.6 L312.6 894.0 L313.9 896.5 L315.2 894.1 L316.5 894.7 L317.8 892.5 L319.1 887.2 L320.4 889.0 L321.7 891.2 L323.0 892.7 L324.3 890.1 L325.6 888.1 L326.0 887.2 L326.9 890.5 L328.2 891.5 L329.5 888.2 L330.8 886.3 L332.1 884.6 L333.4 889.2 L334.7 892.6 L336.0 889.8 L337.3 889.6 L338.6 887.8 L339.9 885.5 L341.2 888.0 L342.5 884.5 L343.8 885.5 L345.0 886.3 L345.1 888.0 L346.4 887.5 L347.7 886.9 L349.0 884.8 L350.3 884.0 L351.6 886.1 L352.9 885.1 L354.2 883.9 L355.5 884.1 L356.8 885.2 L358.1 883.3 L359.4 883.7 L360.7 884.2 L362.0 887.6 L363.3 889.5 L363.3 888.9 L364.6 885.6 L365.9 886.2 L367.2 888.8 L368.5 887.2 L369.8 887.2 L371.1 890.0 L372.4 886.6 L373.7 884.1 L375.0 884.0 L376.3 886.8 L377.6 886.6 L378.9 883.6 L380.2 884.1 L381.5 886.9 L381.6 886.4 L382.8 885.2 L384.1 886.7 L385.4 885.9 L386.7 881.9 L388.0 883.7 L389.3 885.0 L390.6 882.6 L391.9 879.8 L393.2 882.7 L394.5 885.4 L395.8 885.6 L397.1 880.6 L398.4 886.2 L399.7 881.8 L400.0 882.9 L401.0 885.6 L402.3 885.3 L403.6 883.4 L404.9 881.7 L406.2 884.2 L407.5 882.1 L408.8 880.7 L410.0 886.0 L410.1 887.8 L411.4 887.5 L412.7 883.5 L414.0 886.4 L415.3 887.2 L416.6 886.1 L417.9 882.4 L419.2 879.6 L419.2 881.4 L420.5 876.2 L421.8 876.1 L423.1 878.3 L424.4 876.4 L425.7 876.6 L427.0 876.9 L428.3 879.5 L428.3 876.4 L429.6 875.4 L430.9 875.3 L432.2 871.3 L433.5 870.8 L434.8 871.4 L436.1 867.3 L437.4 866.8 L437.5 867.5 L438.7 866.1 L440.0 865.8 L441.3 859.8 L442.0 858.9 L442.6 853.0 L443.9 843.5 L444.2 843.8 L445.2 857.4 L446.5 872.3 L446.6 868.7 L447.8 868.2 L449.1 870.8 L450.4 870.7 L451.7 873.1 L452.1 872.2 L453.0 873.6 L454.3 875.1 L455.6 874.4 L456.9 875.0 L458.2 874.5 L459.5 877.2 L459.5 878.4 L460.8 878.0 L462.1 877.4 L463.4 879.2 L464.7 879.5 L465.0 878.4 L466.0 876.7 L467.3 877.2 L468.6 880.5 L469.9 882.5 L471.2 880.7 L472.5 878.7 L473.8 880.3 L475.1 876.6 L476.4 880.0 L477.7 876.3 L479.0 873.5 L480.3 882.1 L481.6 881.1 L482.9 876.2 L483.3 877.3 L484.2 877.3 L485.5 877.3 L486.8 875.0 L488.1 876.6 L489.4 879.1 L490.7 879.7 L492.0 881.1 L493.3 880.6 L494.2 880.4 L494.6 878.7 L495.9 877.6 L497.2 873.5 L498.5 874.0 L499.8 877.3 L501.0 874.7 L501.1 875.4 L502.4 871.8 L503.7 867.4 L504.3 867.8 L505.0 868.3 L506.3 871.4 L507.6 876.2 L508.9 878.7 L508.9 877.1 L510.2 875.5 L511.5 877.3 L512.8 877.4 L514.1 879.8 L515.4 882.4 L516.7 879.3 L518.0 876.8 L519.3 875.8 L520.0 875.8 L520.6 873.8 L521.9 873.5 L523.2 874.2 L524.5 874.4 L525.8 875.7 L527.1 873.8 L528.0 873.7 L528.4 871.5 L529.7 873.3 L530.9 868.9 L531.0 872.1 L532.3 872.3 L533.6 873.8 L534.9 872.6 L536.2 875.8 L537.5 879.5 L538.2 875.3 L538.8 877.6 L540.1 878.4 L541.4 875.9 L542.7 875.7 L544.0 875.5 L545.3 872.0 L546.6 872.2 L547.9 869.8 L549.2 869.1 L549.2 870.6 L550.5 871.3 L551.8 872.9 L553.1 873.6 L554.4 872.4 L555.7 878.4 L557.0 878.9 L558.3 878.1 L559.6 876.7 L560.0 877.4 L560.9 878.5 L562.2 877.7 L563.5 874.7 L564.8 879.2 L566.1 882.3 L567.4 875.4 L568.7 878.5 L570.0 878.3 L571.3 877.7 L572.6 879.3 L573.3 876.7 L573.9 877.7 L575.2 880.3 L576.5 877.9 L577.8 877.3 L579.1 878.2 L580.4 878.5 L581.7 881.3 L583.0 878.4 L584.3 880.2 L585.6 878.0 L586.9 880.7 L588.2 879.2 L589.5 875.6 L590.8 879.3 L591.6 880.2 L592.1 880.2 L593.4 882.9 L594.7 878.5 L596.0 878.4 L597.3 882.4 L598.6 881.2 L599.9 882.7 L601.2 880.3 L602.5 877.7 L603.8 879.1 L605.1 881.5 L606.4 880.9 L607.7 878.8 L609.0 878.3 L610.0 878.0 L610.3 877.7 L611.6 881.3 L612.9 878.0 L614.2 875.2 L615.5 876.2 L616.8 878.5 L618.1 878.3 L619.4 876.4 L620.7 875.2 L622.0 875.4 L623.3 872.5 L624.6 873.2 L625.9 876.5 L627.2 875.1 L628.3 875.7 L628.5 878.1 L629.8 877.3 L631.1 876.9 L632.4 880.2 L633.7 878.0 L635.0 876.1 L636.3 877.8 L637.6 877.3 L638.9 875.3 L640.2 876.6 L641.5 876.0 L642.8 873.4 L642.9 876.8 L644.1 875.8 L645.4 874.4 L646.7 871.9 L648.0 873.3 L649.3 873.9 L650.2 873.5 L650.6 871.5 L651.9 872.8 L653.2 869.6 L654.5 870.5 L655.8 872.2 L657.1 868.3 L658.4 867.7 L659.7 869.3 L661.0 866.4 L662.3 865.4 L663.6 865.9 L664.9 865.6 L664.9 863.2 L666.2 861.1 L667.5 860.9 L668.8 860.3 L670.1 860.3 L671.4 860.4 L672.7 861.7 L674.0 859.9 L675.3 861.0 L676.6 861.0 L677.9 858.9 L679.2 860.2 L680.5 862.4 L681.4 859.2 L681.8 857.6 L683.1 857.1 L684.4 855.4 L685.7 856.7 L686.0 856.4 L687.0 853.0 L688.3 851.7 L688.9 851.4 L689.6 852.5 L690.9 856.5 L691.0 856.4 L692.2 856.9 L693.5 860.8 L694.8 867.1 L694.8 863.5 L696.1 863.9 L697.4 865.7 L698.7 868.4 L699.3 869.9 L700.0 872.5 L701.3 878.0 L702.6 878.9 L703.8 880.7 L703.9 881.2 L705.2 879.8 L706.5 876.1 L707.8 877.0 L709.1 876.9 L709.7 876.5 L710.4 873.3 L711.7 877.7 L713.0 876.7 L714.3 876.3 L715.6 876.8 L716.9 877.3 L718.2 877.9 L719.5 875.4 L720.8 875.9 L722.1 878.4 L723.4 878.5 L724.5 878.1 L724.7 876.9 L726.0 876.5 L727.3 878.1 L728.6 879.7 L729.9 877.0 L731.2 880.4 L732.5 879.6 L733.8 877.3 L735.1 878.0 L736.4 874.2 L737.7 872.8 L739.0 873.8 L739.4 876.5 L740.3 875.8 L741.6 875.4 L742.9 875.3 L744.2 872.3 L745.5 875.2 L746.8 872.7 L748.1 873.2 L749.4 873.4 L750.7 871.8 L752.0 871.0 L753.3 871.7 L754.2 873.8 L754.6 875.2 L755.9 874.6 L757.2 871.7 L758.5 871.3 L759.8 871.6 L761.1 872.9 L762.0 872.3 L762.4 874.6 L763.7 873.0 L765.0 872.6 L766.3 875.2 L767.6 877.0 L768.9 876.6 L770.2 877.7 L771.5 877.1 L772.0 876.8" fill="none" stroke="#000" stroke-width="4.0" stroke-linejoin="round"/>
<path d="M121.5 940.8 L122.8 940.8 L124.1 942.3 L125.4 940.4 L126.7 939.1 L128.0 937.3 L129.3 938.3 L130.6 939.4 L131.9 936.6 L133.2 939.0 L134.5 939.0 L135.8 937.6 L137.1 933.6 L138.3 937.2 L138.4 938.2 L139.7 936.0 L141.0 935.8 L142.3 932.6 L143.6 936.4 L144.9 935.5 L146.2 936.4 L147.5 932.8 L148.8 935.7 L150.1 935.2 L151.4 935.8 L152.7 932.9 L154.0 933.6 L155.3 937.5 L156.6 932.8 L156.6 933.2 L157.9 932.1 L159.2 931.4 L160.5 935.0 L161.8 935.5 L163.1 930.5 L164.4 928.4 L165.7 932.9 L167.0 933.4 L168.3 932.6 L169.6 931.9 L170.9 928.2 L172.2 927.9 L173.5 925.5 L174.8 925.5 L175.0 928.5 L176.1 928.1 L177.4 931.9 L178.7 928.6 L180.0 926.9 L181.3 929.5 L182.6 931.2 L183.9 928.4 L185.2 925.3 L186.5 927.8 L187.8 929.4 L189.1 926.1 L190.4 925.5 L191.7 928.2 L193.0 926.7 L193.3 925.8 L194.3 924.6 L195.6 924.2 L196.9 925.4 L198.2 925.5 L198.8 925.2 L199.5 925.7 L200.8 922.3 L202.1 925.4 L202.8 925.6 L203.4 923.6 L204.7 917.3 L205.0 913.7 L206.0 918.1 L207.3 927.9 L207.3 926.3 L208.6 923.7 L209.7 928.4 L209.9 927.2 L211.2 927.3 L212.5 926.0 L213.8 926.2 L215.1 927.3 L216.4 929.5 L217.7 930.5 L219.0 927.6 L220.3 931.8 L220.7 931.2 L221.6 929.4 L222.9 931.9 L224.2 930.1 L225.5 928.0 L226.8 932.0 L228.1 928.4 L229.4 928.8 L230.7 929.2 L232.0 930.1 L233.3 927.3 L234.6 928.1 L235.4 926.2 L235.9 928.1 L237.2 926.2 L238.5 927.7 L239.8 932.0 L241.1 930.6 L242.4 931.1 L243.7 934.8 L245.0 932.4 L246.3 930.8 L246.4 932.1 L247.6 929.4 L248.9 931.7 L250.2 930.9 L251.5 926.5 L252.8 924.9 L253.0 926.0 L254.1 924.9 L255.4 922.7 L256.7 923.2 L258.0 918.7 L259.3 919.7 L260.1 920.6 L260.6 920.9 L261.9 922.9 L263.2 922.5 L264.5 926.4 L265.8 927.0 L266.5 927.7 L267.1 924.8 L268.4 925.2 L269.7 927.2 L271.0 925.4 L272.3 926.9 L273.6 928.7 L274.9 928.9 L275.0 926.9 L276.2 925.3 L277.5 923.6 L278.8 926.5 L280.1 926.0 L281.4 926.5 L282.7 924.9 L284.0 926.1 L285.3 925.5 L286.6 924.7 L287.9 923.9 L289.2 923.2 L290.0 922.2 L290.5 921.0 L291.8 916.9 L293.1 910.4 L294.4 908.3 L294.5 905.3 L295.7 896.2 L296.8 884.8 L297.0 886.9 L298.3 902.1 L299.0 904.9 L299.6 904.9 L300.9 911.2 L301.0 913.6 L302.2 919.4 L303.5 919.2 L304.8 921.1 L306.1 920.5 L307.4 924.4 L308.7 928.0 L310.0 931.3 L310.1 928.1 L311.3 928.6 L312.6 927.5 L313.9 924.8 L315.2 925.4 L316.5 924.0 L317.8 920.7 L319.1 924.6 L320.4 924.7 L321.7 922.0 L323.0 920.5 L324.3 924.2 L325.6 922.8 L326.6 921.7 L326.9 923.6 L328.2 920.7 L329.5 921.8 L330.8 920.3 L332.1 920.1 L333.4 920.0 L334.7 920.5 L336.0 922.0 L337.3 920.4 L338.6 919.3 L339.9 919.1 L341.2 919.6 L342.5 917.6 L343.8 917.8 L345.0 918.8 L345.1 917.9 L346.4 918.6 L347.7 919.1 L349.0 923.6 L350.3 923.3 L351.6 921.4 L352.9 921.3 L354.2 924.7 L355.5 922.2 L356.8 921.1 L358.1 921.9 L359.4 922.7 L360.7 924.3 L362.0 923.2 L363.3 925.6 L364.6 921.8 L365.9 923.1 L366.9 922.4 L367.2 925.3 L368.5 922.0 L369.8 921.4 L371.1 922.8 L372.4 922.2 L373.7 917.7 L375.0 917.1 L376.3 915.4 L377.6 917.1 L378.9 916.5 L380.2 915.2 L381.5 913.9 L381.6 915.0 L382.8 914.0 L384.1 916.5 L385.4 917.4 L386.7 912.2 L388.0 914.0 L389.3 914.4 L390.6 915.3 L391.9 913.3 L393.2 913.8 L394.5 913.1 L395.8 915.6 L397.1 915.0 L398.4 914.5 L399.7 915.0 L399.9 914.2 L401.0 912.0 L402.3 915.6 L403.6 916.0 L404.9 915.8 L406.2 918.1 L407.5 918.3 L408.8 914.6 L410.0 916.3 L410.1 919.7 L411.4 919.3 L412.7 914.9 L414.0 913.2 L415.3 913.8 L416.6 913.6 L417.9 912.1 L419.2 913.8 L420.5 911.8 L421.8 912.0 L423.1 915.0 L424.4 912.9 L425.0 913.7 L425.7 914.8 L427.0 914.2 L428.3 911.6 L429.6 910.8 L430.9 909.7 L432.2 912.9 L433.5 910.5 L433.7 908.5 L434.8 906.4 L436.1 905.1 L436.6 903.1 L437.4 907.6 L438.7 908.1 L439.4 905.9 L440.0 903.6 L441.3 898.8 L442.2 898.7 L442.6 898.5 L443.9 896.6 L444.0 891.3 L445.2 892.5 L445.9 899.1 L446.5 901.5 L447.8 904.6 L447.8 906.5 L449.1 905.9 L450.4 906.7 L450.6 906.0 L451.7 904.0 L453.0 905.3 L454.3 902.6 L454.4 902.9 L455.6 906.1 L456.2 911.4 L456.9 912.3 L458.2 909.5 L459.5 911.9 L460.8 913.8 L461.9 912.7 L462.1 913.2 L463.4 915.3 L463.7 918.2 L464.7 919.1 L466.0 915.4 L467.3 910.4 L468.6 910.4 L469.9 913.3 L471.2 913.6 L471.2 910.5 L472.5 912.1 L473.8 909.2 L475.1 909.2 L476.4 909.8 L477.7 909.9 L479.0 907.4 L480.3 911.2 L481.6 911.8 L482.9 907.3 L483.3 908.6 L484.2 909.7 L485.5 908.5 L486.8 906.9 L488.1 912.4 L489.4 912.9 L490.7 913.2 L492.0 917.5 L492.4 914.2 L493.3 910.4 L494.6 907.9 L495.9 902.9 L496.0 904.3 L497.2 904.4 L498.5 902.5 L499.8 902.5 L501.1 905.5 L501.6 902.8 L502.4 904.3 L503.7 904.3 L505.0 905.0 L506.3 906.7 L507.6 905.7 L508.9 908.0 L510.2 904.4 L510.7 905.3 L511.5 903.5 L512.8 906.2 L514.1 909.4 L515.4 911.6 L516.7 909.2 L518.0 910.4 L519.3 910.7 L519.9 911.5 L520.6 908.9 L521.9 908.8 L523.2 905.3 L524.5 906.5 L525.8 905.3 L527.1 902.4 L527.2 903.1 L528.4 900.8 L529.7 904.3 L531.0 899.8 L531.0 901.7 L532.3 892.1 L532.7 887.1 L533.6 889.9 L534.4 896.3 L534.9 899.3 L536.2 896.2 L536.4 897.4 L537.5 895.7 L538.8 891.1 L539.1 889.4 L540.1 894.4 L540.8 898.9 L541.4 897.8 L542.7 902.8 L544.0 899.0 L545.3 896.6 L545.5 900.8 L546.6 901.2 L547.9 903.6 L549.2 900.0 L550.5 899.5 L551.0 899.8 L551.8 903.7 L553.1 903.6 L554.4 906.9 L555.7 908.2 L557.0 908.8 L558.3 911.3 L559.6 913.1 L560.0 913.6 L560.9 914.8 L562.2 911.2 L563.5 914.0 L564.8 913.5 L566.1 910.5 L567.4 908.3 L568.7 908.6 L570.0 909.4 L571.3 909.3 L572.6 908.1 L573.3 907.0 L573.9 906.1 L575.2 906.6 L576.5 904.8 L577.8 908.5 L579.1 908.4 L580.4 908.0 L581.7 910.8 L583.0 909.6 L584.3 904.4 L585.6 908.0 L586.9 907.7 L588.2 912.6 L589.5 915.3 L590.8 911.0 L591.6 911.1 L592.1 910.8 L593.4 911.7 L594.7 912.6 L596.0 912.9 L597.3 909.9 L598.6 912.5 L599.9 909.3 L601.2 910.8 L602.5 912.5 L603.8 911.3 L605.1 908.1 L606.4 907.8 L607.7 908.4 L609.0 909.6 L610.0 909.8 L610.3 907.5 L611.6 909.6 L612.9 910.4 L614.2 910.1 L615.5 910.1 L616.8 911.4 L618.1 909.9 L619.4 909.8 L620.7 909.7 L622.0 910.2 L623.3 905.0 L624.6 908.6 L625.9 906.8 L627.2 905.7 L628.3 905.7 L628.5 902.4 L629.8 903.7 L631.1 903.2 L632.4 903.5 L633.7 900.5 L635.0 903.6 L635.6 901.3 L636.3 900.7 L637.6 900.1 L638.9 900.2 L640.2 900.3 L641.5 902.0 L642.8 903.7 L644.1 903.7 L645.4 902.3 L646.6 905.2 L646.7 903.9 L648.0 905.6 L649.3 907.9 L650.6 905.3 L651.9 902.0 L653.2 898.6 L654.5 897.7 L655.7 900.0 L655.8 901.3 L657.1 899.1 L658.4 899.0 L659.7 897.7 L661.0 898.5 L662.3 899.6 L663.6 895.7 L664.9 894.6 L666.2 893.8 L667.5 895.2 L668.6 893.1 L668.8 890.6 L670.1 889.5 L671.4 889.6 L672.7 893.2 L674.0 895.9 L675.3 890.4 L676.6 891.7 L677.9 890.1 L679.2 887.1 L680.5 887.6 L681.4 888.0 L681.8 887.2 L683.1 889.2 L684.4 882.9 L685.7 884.4 L687.0 883.7 L687.4 882.5 L688.3 885.0 L689.6 888.9 L690.9 890.6 L692.0 892.3 L692.2 893.0 L693.5 892.2 L694.8 900.5 L694.8 899.2 L696.1 901.6 L697.4 901.1 L698.7 898.0 L699.3 900.3 L700.0 900.9 L701.3 905.5 L702.3 909.9 L702.6 908.4 L703.9 908.4 L705.2 906.2 L706.5 909.0 L707.8 909.9 L709.1 908.7 L709.7 910.0 L710.4 912.7 L711.7 907.6 L713.0 906.3 L714.3 907.1 L715.6 910.6 L716.9 911.9 L718.2 908.1 L719.5 905.0 L720.8 905.2 L722.1 906.8 L723.4 904.2 L724.5 905.3 L724.7 907.6 L726.0 905.3 L727.3 905.7 L728.6 906.4 L729.9 906.8 L731.2 903.2 L732.5 905.6 L733.8 903.4 L735.1 902.3 L736.4 903.6 L737.7 903.0 L739.0 901.1 L739.4 902.5 L740.3 901.9 L741.6 906.8 L742.9 908.2 L744.2 906.3 L745.5 906.1 L746.8 903.5 L748.1 903.8 L749.4 904.2 L750.7 902.0 L752.0 902.1 L753.3 904.0 L754.2 904.1 L754.6 902.5 L755.9 904.8 L757.2 904.8 L758.5 906.7 L759.8 905.4 L761.1 904.8 L762.4 905.5 L763.7 905.0 L765.0 904.3 L766.3 905.2 L767.6 907.5 L768.9 908.2 L770.2 908.3 L771.5 903.8 L772.0 906.2" fill="none" stroke="#000" stroke-width="4.0" stroke-linejoin="round"/>
<path d="M121.5 971.8 L122.8 971.8 L124.1 970.6 L125.4 970.5 L126.7 972.4 L128.0 971.1 L129.3 969.2 L130.6 972.8 L131.9 972.4 L133.2 969.7 L134.5 970.8 L135.8 969.0 L137.1 971.1 L138.3 969.1 L138.4 967.5 L139.7 967.6 L141.0 967.2 L142.3 968.5 L143.6 968.6 L144.9 967.8 L146.2 965.2 L147.5 960.5 L148.8 965.1 L150.1 963.6 L151.4 966.8 L152.7 968.6 L154.0 966.9 L155.3 965.2 L156.6 965.1 L156.6 965.4 L157.9 963.8 L159.2 963.0 L160.5 962.7 L161.8 965.4 L163.1 963.9 L164.4 964.3 L165.7 962.1 L167.0 961.6 L168.3 961.0 L169.6 961.8 L170.0 961.0 L170.9 959.5 L172.2 955.4 L173.1 955.1 L173.5 958.8 L174.8 958.7 L176.0 961.0 L176.1 964.0 L177.4 963.8 L178.7 962.2 L180.0 961.4 L181.3 965.3 L182.6 962.8 L183.9 962.1 L184.1 960.8 L185.2 957.3 L186.5 957.0 L187.8 959.5 L189.1 959.3 L190.4 957.1 L191.7 954.4 L193.0 953.3 L193.3 955.9 L194.3 953.6 L195.6 957.2 L196.9 958.8 L198.2 960.7 L198.8 955.3 L199.5 954.2 L200.8 953.2 L202.1 950.7 L203.4 956.3 L204.2 959.4 L204.7 961.4 L206.0 961.2 L207.3 960.8 L208.6 960.3 L209.9 961.2 L211.2 961.8 L212.5 957.7 L213.8 957.4 L215.1 957.1 L215.2 960.1 L216.4 963.0 L217.7 961.6 L219.0 958.9 L220.3 961.0 L221.6 961.5 L222.9 962.3 L224.2 962.8 L225.5 964.1 L226.2 963.6 L226.8 964.8 L228.1 962.9 L229.4 960.8 L230.7 959.9 L232.0 958.9 L233.3 959.6 L233.6 958.2 L234.6 959.1 L235.9 958.4 L237.2 957.9 L238.5 961.8 L239.8 960.6 L241.1 963.7 L242.4 963.9 L242.7 962.7 L243.7 960.7 L245.0 961.1 L246.3 960.1 L247.6 959.5 L248.9 962.0 L250.2 960.7 L251.5 960.6 L251.9 959.8 L252.8 959.2 L254.1 956.5 L255.4 956.4 L256.7 956.3 L258.0 954.0 L259.2 952.3 L259.3 950.7 L260.6 954.0 L261.9 955.7 L263.2 955.6 L264.5 956.1 L265.8 960.2 L266.5 960.6 L267.1 960.2 L268.4 961.4 L269.7 961.6 L270.0 960.7 L271.0 960.5 L272.3 960.4 L273.6 962.7 L274.9 959.8 L276.2 957.9 L277.5 958.3 L278.8 958.5 L279.2 958.0 L280.1 957.4 L281.4 955.5 L282.7 957.4 L284.0 960.0 L285.3 962.0 L286.6 959.9 L287.9 958.8 L289.2 960.1 L290.1 958.3 L290.5 960.9 L291.8 958.3 L292.5 955.1 L293.1 954.0 L294.4 950.7 L295.7 947.5 L297.0 943.7 L297.0 942.8 L298.3 941.5 L299.6 945.5 L300.5 948.8 L300.9 950.2 L302.2 953.1 L303.0 954.7 L303.5 956.8 L304.8 958.5 L306.1 958.6 L307.4 962.1 L308.7 962.7 L310.0 958.8 L310.3 960.6 L311.3 961.2 L312.6 960.8 L313.9 960.8 L315.2 957.7 L316.5 956.9 L317.8 956.2 L319.1 956.2 L320.4 956.6 L321.7 954.2 L323.0 954.7 L324.3 957.3 L325.0 956.6 L325.6 956.0 L326.9 951.6 L328.2 951.9 L329.5 952.1 L330.4 952.7 L330.8 951.8 L332.1 952.8 L333.4 950.5 L334.7 949.1 L336.0 948.3 L337.3 947.9 L337.8 946.4 L338.6 949.1 L339.9 949.5 L341.2 949.7 L342.5 950.7 L343.3 951.4 L343.8 953.5 L345.1 953.5 L346.4 952.9 L347.7 953.4 L349.0 952.9 L350.3 954.4 L351.6 951.9 L352.9 949.1 L354.2 954.3 L355.5 953.1 L356.8 950.8 L358.1 952.0 L359.4 952.5 L360.7 957.2 L361.6 954.0 L362.0 951.1 L363.3 953.2 L364.6 952.7 L365.9 954.9 L367.2 949.4 L368.5 946.4 L369.8 949.5 L371.1 949.0 L372.4 947.6 L372.6 948.0 L373.7 949.7 L375.0 951.5 L376.3 946.6 L377.6 950.0 L378.9 949.1 L380.2 952.9 L381.5 950.2 L382.8 948.7 L384.1 950.5 L385.4 949.4 L386.7 947.6 L388.0 948.9 L389.3 946.6 L390.6 945.2 L391.9 950.6 L393.2 947.6 L394.5 946.5 L395.8 947.2 L397.1 944.1 L398.2 946.3 L398.4 945.7 L399.7 946.4 L401.0 948.0 L402.3 949.7 L403.6 947.8 L404.9 949.1 L406.2 949.2 L407.5 946.8 L408.8 948.3 L410.0 948.4 L410.1 950.5 L411.4 949.3 L412.7 947.0 L414.0 944.2 L415.3 945.2 L416.6 944.0 L417.9 945.3 L419.2 943.3 L420.5 941.7 L421.8 943.8 L423.1 942.8 L424.4 940.3 L424.7 941.0 L425.7 941.6 L427.0 942.8 L428.3 944.9 L428.3 944.7 L429.6 943.7 L430.9 944.7 L432.2 947.6 L433.5 947.3 L434.8 944.6 L436.1 946.4 L437.4 944.0 L437.5 943.6 L438.7 943.9 L440.0 942.4 L440.5 941.4 L441.3 936.2 L442.6 926.1 L442.8 927.0 L443.9 928.9 L445.0 931.4 L445.2 928.3 L446.5 944.0 L446.5 943.7 L447.8 941.9 L449.1 939.3 L449.5 936.5 L450.4 937.3 L451.7 939.1 L452.0 937.7 L453.0 939.1 L454.3 943.6 L455.6 944.3 L456.9 943.7 L457.6 946.9 L458.2 946.1 L459.5 944.6 L460.8 945.7 L462.1 943.5 L463.4 940.6 L464.7 941.5 L465.0 944.0 L466.0 941.4 L467.3 943.6 L468.6 945.1 L469.9 944.7 L471.2 941.8 L472.5 943.0 L473.8 944.6 L475.1 945.6 L476.4 943.1 L477.7 942.6 L479.0 946.5 L480.3 947.4 L481.6 945.8 L482.9 944.3 L483.3 945.3 L484.2 945.2 L485.5 944.9 L486.8 941.1 L488.1 941.9 L489.4 940.7 L490.7 938.6 L492.0 939.8 L492.4 939.6 L493.3 939.1 L494.6 939.7 L495.9 937.3 L497.2 939.4 L498.5 940.8 L499.5 940.3 L499.8 939.6 L501.1 926.9 L501.6 925.0 L502.4 931.9 L503.5 940.5 L503.7 944.1 L505.0 940.5 L506.3 936.8 L507.6 937.7 L508.9 934.1 L508.9 935.3 L510.2 941.5 L511.5 940.4 L512.8 941.5 L514.1 943.2 L515.4 946.1 L516.2 943.8 L516.7 944.5 L518.0 938.8 L519.3 936.6 L520.6 939.8 L521.9 938.8 L523.2 935.1 L524.5 932.3 L525.4 930.4 L525.8 929.4 L527.1 931.5 L528.4 929.4 L529.7 927.4 L531.0 926.1 L531.8 924.7 L532.3 927.1 L533.6 930.5 L534.9 931.7 L536.2 938.5 L536.4 939.0 L537.5 932.4 L538.8 926.2 L539.1 925.5 L540.1 930.8 L540.8 931.2 L541.4 928.6 L542.7 931.3 L544.0 929.6 L545.3 930.5 L545.5 932.5 L546.6 932.6 L547.9 935.6 L549.2 939.7 L550.5 936.7 L551.8 935.4 L553.1 932.9 L554.4 933.0 L554.7 934.3 L555.7 934.3 L557.0 935.1 L558.3 937.4 L559.6 939.5 L560.0 940.3 L560.9 937.5 L562.2 938.2 L563.5 941.4 L564.8 941.8 L566.1 943.4 L567.4 943.3 L568.7 941.2 L570.0 941.7 L571.3 939.7 L572.6 945.3 L573.3 942.1 L573.9 940.9 L575.2 939.3 L576.5 941.0 L577.8 938.1 L579.1 939.9 L580.4 943.0 L581.7 942.3 L583.0 941.7 L584.3 943.4 L585.6 941.0 L586.9 942.5 L588.2 941.5 L589.5 941.2 L590.8 943.0 L591.6 942.7 L592.1 945.8 L593.4 943.3 L594.7 945.7 L596.0 941.6 L597.3 942.7 L598.6 939.8 L599.9 939.3 L601.2 942.1 L602.5 942.7 L603.8 940.2 L605.1 943.0 L606.4 940.6 L607.7 941.5 L609.0 942.3 L610.0 941.4 L610.3 938.7 L611.6 943.3 L612.9 942.1 L614.2 939.4 L615.5 937.4 L616.8 935.8 L618.1 936.6 L619.4 939.6 L620.7 938.2 L622.0 936.4 L623.3 937.7 L624.6 940.8 L625.9 937.8 L627.2 937.1 L628.3 938.2 L628.5 938.9 L629.8 937.8 L631.1 936.2 L632.4 934.6 L633.7 935.4 L635.0 937.1 L636.3 938.3 L637.6 939.7 L638.9 940.4 L640.2 940.0 L641.5 939.6 L642.8 937.1 L644.1 935.4 L645.4 938.0 L646.6 939.6 L646.7 938.6 L648.0 938.2 L649.3 935.9 L650.6 935.3 L651.9 936.5 L653.2 936.2 L654.5 934.6 L655.7 935.0 L655.8 934.1 L657.1 931.6 L658.4 932.8 L659.7 934.4 L661.0 930.0 L662.3 931.3 L663.6 931.3 L664.9 929.5 L664.9 926.6 L666.2 929.6 L667.5 926.7 L668.8 924.9 L670.1 924.7 L671.4 925.6 L672.7 924.5 L674.0 924.0 L674.0 924.4 L675.3 922.1 L676.6 920.9 L677.9 923.5 L679.2 923.7 L680.5 923.0 L681.8 919.6 L683.1 921.9 L683.2 920.7 L684.4 922.7 L685.7 917.9 L687.0 918.8 L688.3 917.6 L688.9 917.5 L689.6 918.2 L690.9 923.6 L692.2 923.6 L693.5 925.4 L694.8 930.5 L694.8 929.6 L696.1 931.5 L697.4 929.5 L698.7 931.4 L699.3 932.3 L700.0 932.4 L701.3 935.4 L702.3 939.7 L702.6 942.0 L703.9 937.2 L705.2 934.4 L706.5 936.5 L707.8 938.4 L709.1 940.9 L709.7 941.8 L710.4 941.1 L711.7 939.9 L713.0 940.6 L714.3 939.1 L715.6 939.9 L716.9 940.2 L718.2 945.1 L719.5 942.2 L720.8 938.2 L722.1 937.3 L723.4 937.5 L724.5 938.2 L724.7 936.9 L726.0 937.6 L727.3 939.8 L728.6 937.7 L729.9 936.0 L731.2 934.7 L732.5 934.9 L733.8 936.7 L735.1 937.2 L736.4 938.6 L737.7 936.3 L739.0 938.2 L739.4 936.6 L740.3 935.6 L741.6 932.1 L742.9 933.5 L744.2 937.7 L745.5 939.2 L746.8 937.5 L748.1 937.6 L749.4 935.7 L750.7 935.2 L752.0 935.3 L753.3 938.0 L754.2 936.6 L754.6 935.9 L755.9 936.0 L757.2 937.6 L758.5 937.1 L759.8 936.1 L761.1 939.8 L762.4 938.1 L763.7 937.8 L765.0 940.3 L766.3 939.7 L767.6 937.9 L768.9 938.1 L770.2 935.7 L771.5 935.3 L772.0 936.5" fill="none" stroke="#000" stroke-width="4.0" stroke-linejoin="round"/>
<path d="M121.5 1005.4 L122.8 1001.4 L124.1 1003.4 L125.4 1000.8 L126.7 999.3 L128.0 1000.0 L129.0 1000.2 L129.3 1002.0 L130.6 1003.8 L131.9 1002.1 L133.2 1002.1 L134.5 1000.3 L135.8 1002.1 L137.1 1001.5 L138.3 1001.1 L138.4 1000.9 L139.7 1001.0 L141.0 1001.4 L142.3 1001.3 L143.6 999.4 L144.9 999.0 L146.2 1000.5 L147.5 996.9 L148.8 998.5 L150.1 1001.0 L151.4 994.7 L152.7 997.0 L154.0 999.2 L155.3 997.0 L156.6 1001.6 L156.6 997.6 L157.9 1000.3 L159.2 1001.4 L160.5 999.3 L161.8 996.8 L163.1 996.5 L164.4 994.6 L165.7 996.0 L167.0 993.1 L168.3 993.9 L169.6 995.3 L170.9 991.7 L172.2 992.0 L173.5 992.3 L174.8 990.2 L175.0 992.6 L176.1 992.9 L177.4 990.1 L178.7 992.2 L180.0 991.9 L181.3 992.5 L182.6 993.9 L183.9 993.8 L185.2 996.3 L186.5 994.9 L187.8 997.3 L187.8 996.0 L189.1 995.9 L190.4 992.6 L191.7 990.7 L193.0 989.0 L194.3 990.8 L195.6 991.4 L196.9 992.2 L196.9 988.5 L198.2 988.8 L199.5 988.2 L200.8 989.3 L202.1 989.8 L203.4 992.5 L204.7 991.9 L206.0 988.9 L206.0 990.0 L207.3 992.6 L208.6 991.3 L209.9 990.5 L211.2 992.2 L212.5 989.9 L213.8 989.5 L215.1 988.6 L215.2 989.3 L216.4 991.4 L217.7 989.7 L219.0 990.8 L220.3 992.1 L221.6 995.1 L222.9 995.1 L224.2 995.0 L224.4 994.9 L225.5 992.9 L226.8 990.0 L228.1 991.0 L229.4 989.9 L230.7 988.3 L232.0 989.5 L232.6 985.4 L233.3 987.0 L234.6 987.6 L235.9 988.8 L237.0 990.6 L237.2 992.0 L238.5 989.6 L239.8 993.8 L241.1 994.9 L242.4 996.3 L243.7 995.9 L244.5 995.0 L245.0 993.6 L246.3 997.6 L247.6 994.5 L248.9 990.7 L250.2 992.2 L251.5 990.2 L251.9 989.9 L252.8 984.4 L254.1 984.3 L255.4 986.0 L256.7 984.2 L258.0 982.1 L258.3 982.2 L259.3 983.1 L260.6 979.9 L261.9 982.9 L263.2 983.4 L264.5 983.7 L264.7 986.1 L265.8 987.6 L267.1 988.8 L268.4 988.8 L269.7 992.9 L270.0 994.9 L271.0 992.3 L272.3 990.9 L273.6 994.4 L274.9 995.9 L276.2 995.3 L277.5 993.3 L278.8 996.0 L280.1 993.6 L281.4 992.6 L282.7 993.7 L284.0 995.3 L285.3 997.1 L286.6 997.1 L287.9 996.4 L288.3 996.4 L289.2 996.3 L290.5 996.0 L291.8 991.4 L293.1 990.5 L294.4 993.3 L294.5 992.3 L295.7 990.0 L297.0 988.7 L297.1 988.7 L298.3 989.7 L299.6 992.9 L300.9 989.1 L301.1 993.5 L302.2 997.2 L303.5 993.3 L304.8 992.2 L306.1 993.7 L306.4 992.5 L307.4 986.2 L308.1 984.8 L308.7 987.2 L309.8 991.9 L310.0 992.4 L311.3 993.1 L312.6 991.8 L313.9 992.3 L315.2 991.5 L315.8 992.6 L316.5 992.2 L317.8 991.3 L319.1 989.9 L320.4 993.2 L321.7 990.0 L323.0 987.4 L324.3 990.0 L325.0 988.3 L325.6 988.5 L326.9 986.8 L328.2 985.8 L329.5 984.1 L330.4 982.7 L330.8 983.4 L332.1 984.7 L333.4 977.8 L334.7 979.6 L336.0 979.7 L337.3 976.1 L338.6 975.5 L338.7 978.5 L339.9 980.6 L341.2 985.9 L342.3 984.5 L342.5 983.8 L343.8 979.4 L344.7 975.3 L345.1 979.1 L346.4 983.7 L346.4 982.5 L347.7 983.8 L349.0 986.2 L350.3 985.5 L350.6 983.5 L351.6 982.7 L352.9 984.5 L354.2 983.4 L355.5 983.5 L356.8 983.0 L358.1 984.5 L359.4 986.5 L360.7 987.6 L361.6 986.2 L362.0 989.4 L363.3 986.9 L364.6 990.5 L365.9 986.9 L367.2 984.1 L368.5 980.5 L369.8 976.3 L370.7 980.8 L371.1 982.2 L372.4 984.1 L373.7 980.0 L375.0 983.8 L376.3 981.4 L377.6 981.0 L378.9 976.4 L380.2 979.7 L381.5 980.2 L382.8 981.6 L384.1 980.3 L385.4 978.6 L386.7 981.7 L388.0 981.9 L389.3 981.7 L390.6 982.4 L391.9 982.2 L393.2 979.6 L394.5 976.6 L395.8 977.0 L397.1 981.7 L398.2 980.0 L398.4 979.7 L399.7 978.5 L401.0 979.0 L402.3 978.9 L403.6 977.9 L404.9 978.1 L406.2 982.3 L407.5 979.4 L408.8 976.7 L410.0 977.2 L410.1 976.6 L411.4 979.7 L412.7 980.1 L414.0 978.7 L415.3 978.9 L416.6 978.2 L417.9 977.8 L419.2 981.7 L420.5 982.0 L421.0 981.2 L421.8 979.3 L423.1 979.2 L424.4 980.6 L425.7 978.2 L427.0 975.6 L428.3 976.0 L429.6 977.9 L430.9 978.3 L432.2 977.7 L433.5 979.3 L434.8 979.1 L436.1 977.5 L437.4 976.3 L437.5 976.1 L438.7 978.6 L440.0 980.5 L441.3 980.5 L441.5 980.2 L442.6 974.9 L443.9 967.9 L443.9 970.4 L445.2 972.2 L446.0 971.5 L446.5 974.9 L447.8 975.0 L449.1 978.2 L450.3 979.0 L450.4 980.2 L451.7 977.0 L453.0 976.9 L454.3 976.9 L455.6 975.2 L456.9 977.3 L458.2 978.0 L459.5 976.1 L460.8 978.7 L462.1 975.3 L463.4 974.2 L464.7 973.7 L465.0 974.0 L466.0 975.0 L467.3 975.5 L468.6 978.0 L469.9 976.8 L471.2 976.1 L472.5 974.4 L473.8 972.6 L475.1 974.3 L476.4 974.3 L477.7 977.0 L479.0 976.7 L480.3 979.2 L481.6 978.3 L482.9 978.1 L483.3 976.4 L484.2 976.6 L485.5 977.0 L486.8 976.5 L488.1 973.6 L489.4 975.4 L490.7 978.2 L492.0 973.5 L492.4 972.4 L493.3 970.1 L494.6 968.7 L495.9 972.0 L497.2 970.2 L498.5 969.9 L499.5 969.3 L499.8 970.2 L501.1 953.1 L501.6 949.3 L502.4 958.5 L503.6 969.2 L503.7 969.9 L505.0 969.2 L506.3 971.0 L507.2 968.2 L507.6 967.5 L508.9 964.4 L508.9 962.3 L510.2 970.9 L510.6 972.5 L511.5 976.2 L512.8 975.0 L514.1 973.9 L514.4 973.9 L515.4 972.0 L516.7 970.1 L518.0 970.7 L519.3 969.2 L520.6 964.6 L521.9 966.4 L523.2 966.9 L523.6 965.3 L524.5 963.6 L525.8 965.7 L527.1 962.1 L528.4 959.8 L529.7 959.6 L529.8 962.0 L531.0 955.2 L531.8 947.7 L532.3 951.0 L533.6 957.8 L533.8 961.0 L534.9 959.6 L536.2 960.2 L537.5 958.3 L538.8 961.4 L540.1 962.8 L541.4 961.8 L542.7 962.0 L543.7 961.0 L544.0 958.5 L545.3 961.1 L546.6 965.3 L547.9 965.8 L549.2 964.4 L550.5 966.8 L551.0 965.3 L551.8 969.1 L553.1 969.3 L554.4 969.5 L555.7 972.5 L556.5 972.2 L557.0 969.9 L558.3 969.4 L559.6 971.9 L560.9 971.8 L562.2 971.3 L563.5 971.1 L564.8 973.4 L566.1 970.4 L567.4 969.7 L568.7 973.0 L570.0 973.4 L571.3 970.5 L572.6 966.5 L573.3 969.1 L573.9 970.7 L575.2 971.2 L576.5 973.2 L577.8 969.8 L579.1 972.4 L580.4 972.1 L581.7 975.1 L583.0 974.3 L584.3 975.6 L585.6 973.2 L586.9 971.8 L588.2 972.7 L589.5 974.1 L590.8 974.9 L591.6 977.6 L592.1 979.9 L593.4 977.3 L594.7 974.8 L596.0 975.6 L597.3 975.6 L598.6 978.7 L599.9 977.4 L601.2 976.8 L602.5 974.5 L603.8 971.6 L605.1 973.0 L606.4 973.3 L607.7 975.6 L609.0 975.2 L610.0 974.6 L610.3 974.6 L611.6 977.0 L612.9 972.9 L614.2 971.9 L615.5 972.7 L616.8 971.9 L618.1 972.2 L619.4 974.2 L620.7 975.1 L622.0 969.5 L623.3 971.0 L624.6 971.5 L625.9 970.9 L627.2 970.3 L628.3 970.4 L628.5 972.0 L629.8 970.1 L631.1 970.2 L632.4 970.7 L633.7 970.9 L635.0 971.0 L636.3 972.6 L637.6 971.4 L638.9 971.3 L640.2 970.7 L641.5 969.0 L642.8 968.9 L644.1 969.1 L645.4 971.0 L646.6 970.9 L646.7 969.2 L648.0 970.9 L649.3 970.4 L650.6 967.1 L651.9 971.2 L653.2 968.8 L654.5 967.7 L655.8 968.7 L657.1 966.5 L657.6 965.8 L658.4 968.4 L659.7 962.7 L661.0 962.2 L662.3 962.3 L663.6 958.2 L664.9 958.1 L664.9 959.1 L666.2 962.5 L667.5 957.4 L668.8 957.7 L670.1 958.8 L671.4 957.2 L672.7 955.1 L674.0 957.1 L674.0 957.0 L675.3 957.6 L676.6 958.4 L677.9 957.7 L679.2 956.0 L680.5 954.5 L681.8 951.7 L683.1 952.6 L683.2 953.2 L684.4 951.2 L685.7 950.1 L687.0 948.1 L688.3 950.8 L688.3 948.8 L689.6 949.9 L690.9 952.2 L692.2 954.1 L693.5 958.4 L694.8 959.4 L694.8 958.2 L696.1 959.1 L697.4 960.5 L698.7 960.5 L699.7 963.2 L700.0 962.7 L701.3 966.5 L702.6 968.9 L703.9 972.4 L705.2 973.4 L706.3 974.9 L706.5 973.4 L707.8 974.8 L709.1 973.7 L710.4 973.7 L711.7 973.7 L712.8 973.1 L713.0 969.5 L714.3 971.5 L715.6 969.7 L716.9 972.2 L718.2 967.4 L719.5 967.2 L720.8 967.1 L722.1 971.3 L723.4 967.4 L724.3 968.5 L724.7 967.0 L726.0 964.7 L727.3 966.9 L728.6 968.6 L729.9 967.6 L731.2 968.5 L732.5 966.4 L733.8 966.1 L735.1 965.5 L736.4 966.9 L737.7 969.1 L739.0 966.5 L740.3 965.0 L740.8 964.2 L741.6 964.4 L742.9 968.7 L744.2 966.3 L745.5 967.3 L745.7 969.4 L746.8 969.5 L748.1 972.1 L749.4 966.2 L750.7 969.6 L752.0 970.6 L753.3 967.6 L754.6 968.2 L755.9 970.8 L757.2 972.4 L758.5 967.9 L759.8 966.7 L761.1 971.4 L762.1 970.5 L762.4 968.8 L763.7 966.5 L765.0 972.2 L766.3 971.6 L767.6 973.3 L768.9 972.0 L770.2 971.3 L771.5 972.2 L772.0 973.6" fill="none" stroke="#000" stroke-width="4.0" stroke-linejoin="round"/>
<path d="M121.5 1038.4 L122.8 1033.9 L124.1 1035.5 L125.4 1039.8 L126.7 1036.2 L128.0 1033.8 L129.3 1035.6 L130.6 1035.7 L131.9 1035.2 L133.2 1034.3 L134.5 1034.1 L135.8 1033.9 L137.1 1034.6 L138.3 1033.8 L138.4 1033.3 L139.7 1034.1 L141.0 1036.1 L142.3 1034.6 L143.6 1033.3 L144.9 1034.0 L146.2 1034.0 L147.5 1034.7 L148.8 1034.2 L150.1 1035.9 L151.4 1034.8 L152.7 1031.7 L154.0 1030.7 L155.3 1032.5 L156.6 1031.8 L156.6 1030.4 L157.9 1026.5 L159.2 1025.5 L160.5 1028.9 L161.8 1029.9 L163.1 1028.6 L164.4 1025.1 L165.7 1027.3 L167.0 1025.0 L168.3 1025.5 L169.6 1024.7 L170.9 1022.0 L171.3 1022.6 L172.2 1019.0 L173.5 1020.3 L174.8 1020.1 L176.1 1023.8 L177.4 1024.4 L178.7 1025.6 L180.0 1024.7 L181.3 1023.1 L182.6 1024.3 L183.9 1023.8 L184.1 1024.5 L185.2 1023.7 L186.5 1020.6 L187.8 1020.9 L189.1 1020.2 L190.4 1018.9 L191.7 1020.3 L193.0 1020.4 L193.3 1016.8 L194.3 1016.0 L195.6 1014.6 L196.9 1018.7 L198.2 1019.5 L199.5 1018.3 L200.6 1023.3 L200.8 1024.1 L202.1 1021.5 L203.4 1021.0 L204.7 1020.3 L206.0 1021.9 L207.3 1018.5 L208.6 1020.2 L209.9 1023.6 L211.2 1020.8 L211.6 1019.8 L212.5 1019.8 L213.8 1019.2 L215.1 1022.2 L216.4 1023.9 L217.7 1023.1 L219.0 1026.5 L220.3 1029.7 L221.6 1029.8 L222.6 1027.9 L222.9 1025.6 L224.2 1025.1 L225.5 1028.9 L226.8 1028.4 L228.1 1027.1 L229.4 1023.5 L229.9 1024.3 L230.7 1023.1 L232.0 1020.7 L233.3 1016.8 L234.6 1015.9 L235.4 1014.5 L235.9 1015.2 L237.2 1014.5 L238.5 1014.9 L239.8 1020.2 L240.9 1023.3 L241.1 1022.8 L242.4 1022.8 L243.7 1023.3 L245.0 1026.0 L246.3 1025.7 L247.6 1025.9 L248.9 1024.6 L250.2 1025.7 L251.5 1027.3 L251.9 1027.1 L252.8 1023.4 L254.1 1023.3 L255.4 1023.7 L256.7 1020.6 L258.0 1019.6 L259.3 1014.8 L260.1 1012.9 L260.6 1011.0 L261.9 1014.5 L263.2 1019.7 L264.5 1020.3 L265.8 1022.2 L266.5 1021.9 L267.1 1022.7 L268.4 1024.7 L269.7 1027.8 L270.0 1028.4 L271.0 1029.3 L272.3 1029.1 L273.6 1028.2 L274.9 1026.5 L276.2 1026.8 L277.5 1026.5 L278.8 1028.6 L280.1 1024.4 L281.4 1027.7 L282.7 1032.1 L284.0 1027.8 L285.3 1025.7 L286.6 1027.9 L287.9 1030.2 L288.3 1028.0 L289.2 1028.8 L290.5 1027.7 L291.8 1027.8 L293.1 1032.5 L294.4 1027.8 L295.7 1025.2 L297.0 1025.2 L297.1 1026.3 L298.3 1026.8 L299.6 1026.7 L300.9 1024.6 L302.2 1021.8 L303.5 1023.9 L304.8 1022.6 L306.1 1021.4 L306.6 1021.5 L307.4 1020.4 L308.7 1020.6 L310.0 1021.1 L311.3 1019.3 L312.6 1021.4 L313.9 1021.5 L315.2 1019.3 L316.5 1019.5 L317.8 1019.9 L319.1 1021.5 L320.4 1016.7 L321.7 1018.7 L323.0 1017.5 L324.3 1019.6 L325.0 1020.9 L325.6 1019.5 L326.9 1019.1 L328.2 1017.9 L329.5 1021.4 L330.8 1020.0 L332.1 1018.2 L333.4 1013.1 L334.1 1014.5 L334.7 1014.5 L336.0 1008.4 L337.0 1004.9 L337.3 1002.8 L338.6 991.1 L339.2 988.8 L339.9 994.3 L341.2 1004.2 L342.0 1009.3 L342.5 1006.6 L343.8 996.6 L345.1 990.4 L345.1 989.3 L346.4 1006.4 L346.8 1009.3 L347.7 1011.1 L348.8 1012.0 L349.0 1013.7 L350.3 1013.4 L351.6 1013.6 L352.9 1012.9 L354.2 1011.2 L355.5 1013.0 L356.8 1016.0 L358.1 1017.2 L359.4 1013.9 L360.7 1013.7 L361.6 1015.7 L362.0 1014.8 L363.3 1018.4 L364.6 1015.4 L365.9 1013.5 L367.2 1016.7 L368.5 1017.3 L369.8 1012.9 L371.1 1016.3 L372.4 1014.7 L373.7 1016.4 L375.0 1013.1 L376.3 1010.8 L377.6 1014.2 L378.9 1016.1 L379.9 1014.8 L380.2 1017.4 L381.5 1014.7 L382.8 1012.1 L384.1 1011.0 L384.6 1011.6 L385.4 1007.4 L386.3 1005.4 L386.7 1003.0 L388.0 1012.8 L388.0 1013.7 L389.3 1019.1 L390.6 1017.1 L390.9 1015.0 L391.9 1015.0 L393.2 1011.7 L394.5 1011.0 L395.8 1009.6 L397.1 1014.1 L398.4 1012.5 L399.7 1008.8 L401.0 1009.9 L401.9 1010.2 L402.3 1011.1 L403.6 1010.4 L404.9 1008.5 L406.2 1008.9 L407.5 1010.9 L408.8 1012.2 L410.0 1010.5 L410.1 1009.1 L411.4 1012.6 L412.7 1010.7 L414.0 1013.5 L415.3 1013.3 L416.6 1014.7 L417.9 1016.4 L419.2 1015.1 L420.5 1014.4 L421.8 1011.7 L423.1 1012.3 L424.4 1015.4 L425.7 1017.8 L427.0 1018.5 L428.3 1019.6 L428.3 1015.2 L429.6 1013.6 L430.9 1012.7 L432.2 1009.2 L433.5 1006.3 L433.8 1005.9 L434.8 1007.3 L436.1 1004.8 L437.4 1006.0 L438.7 1004.0 L440.0 1006.9 L441.3 1004.6 L442.6 1006.1 L443.9 1002.8 L443.9 1005.2 L445.2 1007.3 L446.5 1004.8 L447.8 1005.5 L449.1 1004.2 L450.4 1001.8 L451.7 1006.0 L453.0 1006.8 L454.3 1004.8 L455.6 1006.9 L456.9 1005.1 L458.2 1004.7 L459.5 1006.3 L460.8 1006.7 L462.1 1010.4 L463.4 1005.6 L464.7 1008.5 L465.0 1007.8 L466.0 1003.5 L467.3 1003.7 L468.6 1007.6 L469.9 1006.9 L471.2 1008.4 L472.5 1009.5 L473.8 1006.8 L475.1 1004.3 L476.4 1002.1 L477.7 1006.3 L479.0 1005.9 L480.3 1007.7 L481.6 1007.4 L482.9 1005.6 L483.3 1008.3 L484.2 1009.6 L485.5 1007.1 L486.8 1002.6 L488.1 1002.1 L489.4 1001.1 L490.7 1000.0 L492.0 998.3 L492.4 1000.1 L493.3 1000.2 L494.6 999.2 L495.9 997.6 L497.2 999.4 L498.5 996.1 L499.8 990.4 L501.1 992.5 L501.6 994.5 L502.4 995.9 L503.7 993.7 L505.0 992.8 L506.3 992.3 L507.6 993.8 L508.9 991.9 L508.9 992.2 L510.2 993.0 L511.5 996.5 L512.8 996.2 L514.1 996.2 L515.4 1001.1 L516.2 1001.6 L516.7 1003.1 L518.0 1005.6 L519.3 1008.8 L520.6 1009.9 L521.7 1009.0 L521.9 1007.8 L523.2 1004.4 L524.5 1006.3 L525.8 1003.0 L527.1 1001.0 L527.2 997.9 L528.4 994.2 L529.7 998.6 L531.0 996.6 L531.9 995.3 L532.3 992.5 L533.6 983.1 L533.6 981.9 L534.9 988.7 L535.3 994.1 L536.2 993.9 L537.5 995.4 L538.2 997.4 L538.8 998.3 L540.1 994.5 L541.4 991.3 L542.7 993.9 L544.0 994.5 L545.3 992.4 L545.5 991.9 L546.6 991.7 L547.9 993.2 L549.2 997.5 L550.5 1000.9 L551.8 1002.4 L552.9 1001.6 L553.1 1002.3 L554.4 1003.2 L555.7 1001.8 L557.0 1003.3 L558.3 1007.2 L559.6 1005.1 L560.0 1004.2 L560.9 1003.4 L562.2 1003.2 L563.5 1001.0 L564.8 1004.0 L566.1 1007.4 L567.4 1009.3 L568.7 1008.0 L570.0 1006.6 L571.3 1005.2 L572.6 1004.1 L573.3 1005.2 L573.9 1006.2 L575.2 1004.9 L576.5 1007.0 L577.8 1004.1 L579.1 1002.5 L580.4 1003.5 L581.7 1003.0 L583.0 1004.6 L584.3 1009.0 L585.6 1007.9 L586.9 1008.8 L588.2 1011.0 L589.5 1011.1 L590.8 1008.9 L591.6 1009.7 L592.1 1010.1 L593.4 1008.9 L594.7 1008.5 L596.0 1005.2 L597.3 1005.5 L598.6 1007.0 L599.9 1007.8 L601.2 1006.1 L602.5 1006.3 L603.8 1008.2 L605.1 1008.9 L606.4 1007.7 L607.7 1007.4 L609.0 1004.3 L610.0 1004.2 L610.3 1004.7 L611.6 1003.8 L612.9 1004.0 L614.2 1007.1 L615.5 1004.3 L616.8 1002.8 L618.1 1005.6 L619.4 1008.0 L620.7 1005.7 L622.0 1006.5 L623.3 1003.9 L624.6 1003.1 L625.9 1002.9 L627.2 1004.6 L628.3 1005.3 L628.5 1003.6 L629.8 1006.4 L631.1 1002.8 L632.4 1003.5 L633.7 1005.5 L635.0 1005.3 L636.3 1003.7 L637.6 1000.7 L638.9 1003.0 L640.2 1002.5 L641.5 1007.3 L642.8 1003.7 L644.1 1002.7 L645.4 1000.5 L646.6 1002.1 L646.7 1000.4 L648.0 1003.3 L649.3 1001.8 L650.6 1001.9 L651.9 999.6 L653.2 999.7 L654.5 1001.7 L655.8 997.5 L657.1 995.6 L657.6 998.8 L658.4 995.8 L659.7 995.4 L661.0 995.8 L662.3 992.2 L663.6 992.4 L664.9 989.4 L664.9 990.6 L666.2 992.0 L667.5 988.2 L668.8 987.3 L670.1 986.1 L671.4 987.6 L672.7 988.2 L674.0 984.3 L674.0 986.3 L675.3 983.4 L676.6 982.8 L677.9 982.5 L679.2 988.2 L680.5 985.8 L681.8 984.7 L683.1 983.5 L683.2 984.5 L684.4 979.3 L685.7 981.3 L687.0 983.5 L688.3 978.2 L688.5 977.8 L689.6 981.1 L690.9 981.8 L692.2 985.9 L693.5 990.5 L694.8 992.4 L695.5 993.2 L696.1 993.1 L697.4 994.9 L698.7 996.3 L700.0 999.4 L701.3 999.3 L701.3 997.2 L702.6 997.1 L703.9 1005.9 L704.6 1007.7 L705.2 1005.0 L706.5 1002.5 L707.8 1004.2 L709.1 1007.2 L710.4 1004.4 L711.7 1004.7 L712.8 1005.9 L713.0 1008.0 L714.3 1005.8 L715.6 1004.7 L716.9 1004.5 L718.2 1007.8 L719.5 1006.9 L720.8 1003.8 L722.1 1000.9 L723.4 1001.8 L724.7 1003.8 L726.0 1002.3 L727.3 1004.3 L728.6 1003.7 L729.3 1002.7 L729.9 1003.5 L731.2 1002.1 L732.5 999.0 L733.8 999.7 L735.1 1002.6 L736.4 996.7 L737.5 997.2 L737.7 999.2 L739.0 997.7 L740.3 996.1 L741.6 996.0 L742.9 999.7 L744.2 1001.8 L745.5 1002.5 L746.8 1000.9 L748.1 1001.7 L749.4 999.1 L750.7 1000.4 L752.0 1000.0 L753.3 1001.8 L753.9 1002.2 L754.6 1003.5 L755.9 1000.8 L757.2 1003.5 L758.5 1001.0 L759.8 999.7 L761.1 1000.6 L762.4 999.2 L763.7 1001.6 L765.0 1002.5 L766.3 1002.1 L767.6 1003.0 L768.9 1001.9 L770.2 1001.6 L771.5 999.8 L772.0 1002.3" fill="none" stroke="#000" stroke-width="4.0" stroke-linejoin="round"/>
<path d="M121.5 1101.5 L122.8 1100.3 L124.1 1100.7 L125.4 1100.2 L126.7 1096.5 L128.0 1095.9 L129.3 1098.1 L130.6 1099.4 L131.9 1099.2 L133.2 1099.8 L134.5 1100.0 L135.8 1098.0 L137.1 1095.8 L138.3 1094.9 L138.4 1093.3 L139.7 1094.4 L141.0 1095.9 L142.3 1095.9 L143.6 1095.4 L144.9 1095.2 L146.2 1096.4 L147.5 1095.9 L148.8 1095.8 L150.1 1095.5 L151.4 1093.7 L152.7 1093.0 L154.0 1095.5 L155.3 1095.6 L156.6 1094.3 L156.6 1094.7 L157.9 1097.7 L159.2 1092.8 L160.5 1092.2 L161.8 1092.0 L163.1 1089.5 L164.0 1091.1 L164.4 1094.5 L165.7 1093.0 L167.0 1091.7 L168.3 1090.8 L169.6 1089.8 L170.9 1090.2 L172.2 1087.9 L173.5 1086.8 L174.8 1087.5 L176.1 1088.4 L177.4 1087.4 L178.7 1086.2 L180.0 1082.2 L181.3 1087.0 L182.6 1089.5 L183.9 1087.0 L184.1 1083.6 L185.2 1081.9 L186.5 1083.0 L187.8 1081.6 L189.1 1083.5 L190.4 1082.2 L191.7 1084.3 L193.0 1084.0 L193.3 1081.0 L194.3 1081.8 L195.6 1081.1 L196.9 1080.2 L198.2 1082.1 L199.5 1084.1 L200.8 1086.1 L202.1 1083.4 L202.4 1086.1 L203.4 1089.7 L204.7 1087.2 L206.0 1086.1 L207.3 1084.4 L208.0 1084.0 L208.6 1085.7 L209.9 1087.1 L211.2 1089.3 L212.5 1093.0 L213.8 1091.1 L215.1 1091.2 L216.4 1092.9 L217.7 1089.0 L219.0 1089.5 L220.3 1091.7 L221.6 1092.9 L222.6 1095.0 L222.9 1094.8 L224.2 1097.0 L225.5 1096.0 L226.8 1092.9 L228.1 1089.8 L229.4 1090.1 L230.7 1089.0 L232.0 1085.1 L233.3 1086.0 L234.6 1085.9 L235.4 1084.1 L235.9 1087.5 L237.2 1087.7 L238.5 1085.3 L239.8 1087.0 L241.1 1087.2 L242.4 1089.9 L243.7 1089.6 L245.0 1093.2 L246.3 1094.3 L246.4 1093.5 L247.6 1091.8 L248.9 1089.6 L250.2 1093.6 L251.5 1091.2 L252.8 1092.3 L253.7 1089.7 L254.1 1090.5 L255.4 1089.3 L256.7 1084.7 L258.0 1082.1 L259.3 1075.4 L260.1 1075.8 L260.6 1076.1 L261.9 1078.0 L263.2 1080.4 L264.5 1083.7 L265.8 1086.8 L266.5 1084.7 L267.1 1085.0 L268.4 1085.9 L269.7 1089.2 L269.8 1087.6 L271.0 1088.6 L272.3 1088.4 L273.6 1090.7 L274.9 1091.8 L276.2 1090.1 L277.5 1090.3 L278.8 1089.1 L280.1 1092.4 L281.4 1094.1 L282.7 1093.0 L284.0 1094.8 L285.3 1090.3 L285.4 1093.0 L286.6 1090.8 L287.9 1092.6 L289.2 1093.6 L290.5 1093.4 L291.8 1093.5 L293.1 1094.3 L294.4 1091.9 L295.7 1089.8 L297.0 1090.6 L297.1 1093.2 L298.3 1088.4 L299.6 1090.6 L300.9 1093.4 L302.2 1091.1 L303.5 1088.0 L304.8 1088.6 L306.1 1090.0 L307.4 1089.5 L308.7 1085.8 L310.0 1087.1 L310.8 1086.0 L311.3 1088.1 L312.6 1088.0 L313.9 1084.3 L315.2 1082.0 L316.5 1085.2 L317.8 1087.7 L319.1 1085.8 L320.4 1085.1 L321.7 1087.2 L323.0 1082.3 L324.3 1083.6 L325.6 1081.7 L326.9 1081.9 L328.2 1082.5 L328.4 1082.4 L329.5 1080.1 L330.8 1079.2 L332.1 1077.9 L333.4 1080.6 L334.7 1079.7 L336.0 1080.0 L336.2 1079.2 L337.3 1076.1 L338.3 1074.5 L338.6 1061.2 L339.6 1017.4 L339.9 1031.2 L340.9 1073.7 L341.2 1071.8 L342.5 1077.2 L342.5 1076.2 L343.8 1077.5 L345.1 1073.0 L346.4 1072.8 L347.7 1073.0 L349.0 1076.4 L350.3 1080.7 L351.6 1080.8 L352.9 1080.1 L354.2 1080.9 L355.5 1082.2 L356.8 1081.3 L357.7 1081.9 L358.1 1081.2 L359.4 1077.5 L360.7 1080.4 L362.0 1083.5 L363.3 1080.9 L364.6 1080.4 L365.9 1079.6 L367.2 1080.1 L368.5 1082.4 L369.8 1080.1 L371.1 1077.2 L372.4 1074.0 L373.7 1077.1 L375.0 1075.5 L376.3 1076.1 L377.2 1080.1 L377.6 1080.6 L378.9 1076.7 L380.2 1080.5 L381.5 1080.2 L382.8 1078.3 L384.1 1079.5 L385.4 1075.8 L386.7 1075.4 L388.0 1075.2 L389.3 1076.3 L390.6 1079.1 L391.9 1075.8 L393.2 1075.2 L394.5 1075.9 L395.8 1077.7 L396.7 1077.7 L397.1 1078.9 L398.4 1076.0 L399.7 1074.3 L401.0 1075.5 L402.3 1076.1 L403.6 1074.7 L404.9 1076.9 L406.2 1078.9 L407.5 1075.1 L408.8 1075.5 L410.0 1075.6 L410.1 1073.9 L411.4 1073.1 L412.7 1073.6 L414.0 1076.7 L415.3 1077.7 L416.6 1077.0 L417.9 1078.0 L419.2 1080.6 L420.5 1079.9 L421.8 1076.6 L423.1 1078.7 L424.4 1080.1 L425.7 1081.3 L426.5 1080.3 L427.0 1078.7 L428.3 1077.7 L429.6 1075.4 L430.9 1077.3 L432.2 1076.7 L433.5 1077.2 L434.8 1074.6 L436.1 1074.2 L437.4 1072.8 L438.7 1072.5 L440.0 1074.6 L441.3 1072.9 L442.6 1072.9 L443.9 1070.3 L443.9 1071.9 L445.2 1068.8 L446.5 1070.3 L447.8 1071.1 L449.1 1072.8 L450.4 1072.3 L451.7 1071.8 L453.0 1073.2 L454.3 1072.5 L455.6 1072.9 L456.9 1073.1 L458.2 1071.5 L459.5 1071.0 L460.8 1071.7 L462.1 1070.8 L463.4 1072.2 L464.7 1073.7 L465.0 1071.8 L466.0 1070.6 L467.3 1069.3 L468.6 1071.4 L469.9 1072.6 L471.2 1074.6 L472.5 1072.7 L473.8 1073.1 L475.1 1074.8 L476.4 1073.4 L477.7 1074.6 L479.0 1078.3 L480.3 1078.6 L481.6 1077.2 L482.9 1076.0 L484.2 1074.6 L485.5 1077.0 L486.8 1077.1 L486.9 1076.8 L488.1 1074.2 L489.4 1073.1 L490.7 1071.4 L492.0 1071.0 L492.4 1070.3 L493.3 1069.6 L494.6 1065.4 L495.9 1065.1 L497.2 1064.2 L497.9 1067.0 L498.5 1067.9 L499.8 1066.8 L500.8 1065.2 L501.1 1063.6 L502.4 1054.3 L502.5 1054.6 L503.7 1057.4 L505.0 1065.0 L505.2 1068.1 L506.3 1064.7 L507.2 1065.8 L507.6 1065.2 L508.9 1053.9 L508.9 1053.7 L510.2 1061.2 L510.6 1065.1 L511.5 1067.3 L512.6 1067.8 L512.8 1070.0 L514.1 1072.1 L515.4 1072.4 L516.7 1073.6 L518.0 1074.8 L518.1 1074.9 L519.3 1070.9 L520.6 1070.8 L521.9 1068.3 L523.2 1065.2 L524.5 1066.7 L525.4 1061.7 L525.8 1060.1 L527.1 1061.4 L528.4 1058.2 L529.7 1059.2 L530.9 1061.0 L531.0 1058.8 L532.3 1050.7 L533.6 1042.2 L534.0 1039.0 L534.9 1048.8 L536.2 1061.0 L536.4 1060.7 L537.5 1058.6 L538.8 1058.7 L540.0 1055.5 L540.1 1054.9 L541.4 1059.3 L542.7 1059.4 L544.0 1059.0 L545.3 1060.6 L546.6 1061.0 L547.4 1059.6 L547.9 1059.6 L549.2 1060.3 L550.5 1063.6 L551.8 1065.1 L553.1 1069.8 L554.4 1070.1 L554.7 1069.1 L555.7 1068.5 L557.0 1067.2 L558.3 1069.2 L559.6 1070.5 L560.9 1069.3 L562.2 1065.8 L563.5 1068.2 L564.8 1070.3 L566.1 1070.6 L567.4 1071.1 L568.7 1067.7 L570.0 1069.6 L571.3 1068.4 L572.6 1069.6 L573.3 1069.8 L573.9 1070.7 L575.2 1069.1 L576.5 1069.8 L577.8 1067.9 L579.1 1068.0 L580.4 1071.5 L581.7 1070.9 L583.0 1068.4 L584.3 1069.9 L585.6 1072.7 L586.9 1075.9 L588.2 1075.8 L589.5 1074.5 L590.8 1070.7 L592.1 1073.3 L593.4 1075.3 L594.7 1075.7 L595.3 1075.1 L596.0 1075.0 L597.3 1077.8 L598.6 1077.1 L599.9 1073.4 L601.2 1071.9 L602.5 1075.7 L603.8 1072.4 L605.1 1074.5 L606.4 1074.9 L607.7 1070.1 L609.0 1070.6 L610.0 1070.3 L610.3 1071.1 L611.6 1071.4 L612.9 1073.4 L614.2 1071.0 L615.5 1069.5 L616.8 1070.5 L618.1 1068.0 L619.4 1068.0 L620.7 1071.2 L622.0 1066.4 L623.3 1065.7 L624.6 1066.1 L625.9 1063.5 L627.2 1062.1 L628.3 1066.0 L628.5 1064.4 L629.8 1064.4 L631.1 1064.8 L632.4 1063.9 L633.7 1064.2 L635.0 1067.4 L636.3 1071.5 L637.6 1069.6 L638.9 1068.3 L640.2 1064.9 L641.5 1066.5 L642.8 1065.9 L644.1 1068.8 L645.4 1068.1 L646.6 1068.4 L646.7 1067.9 L648.0 1066.1 L649.3 1064.5 L650.6 1066.6 L651.9 1063.4 L653.2 1062.8 L654.5 1063.8 L655.8 1063.3 L657.1 1064.6 L657.6 1064.6 L658.4 1063.7 L659.7 1061.4 L661.0 1059.6 L662.3 1058.2 L663.6 1052.7 L664.9 1053.3 L664.9 1053.2 L666.2 1050.6 L667.5 1052.1 L668.8 1051.7 L670.1 1053.0 L671.4 1052.4 L672.7 1046.7 L674.0 1049.8 L674.0 1051.3 L675.3 1052.8 L676.6 1052.8 L677.9 1049.9 L679.2 1046.5 L680.5 1047.1 L681.8 1050.5 L683.1 1050.9 L683.2 1048.9 L684.4 1047.9 L685.7 1047.7 L687.0 1044.2 L688.3 1046.2 L689.6 1049.9 L690.9 1050.3 L692.2 1046.5 L692.8 1045.9 L693.5 1046.5 L694.8 1048.7 L696.1 1051.5 L696.4 1056.8 L697.4 1058.7 L698.7 1064.5 L700.0 1064.1 L701.3 1064.4 L701.3 1064.0 L702.6 1068.5 L703.9 1068.4 L704.6 1069.3 L705.2 1065.8 L706.5 1070.8 L707.8 1071.5 L709.1 1068.9 L710.4 1069.6 L711.7 1070.7 L712.8 1070.2 L713.0 1070.8 L714.3 1072.5 L715.6 1069.3 L716.9 1067.8 L718.2 1067.0 L719.5 1063.8 L720.8 1066.7 L722.1 1070.3 L723.4 1069.1 L724.7 1067.1 L726.0 1067.8 L727.3 1064.5 L728.6 1066.9 L729.3 1068.4 L729.9 1069.1 L731.2 1067.2 L732.5 1070.0 L733.8 1071.6 L735.1 1068.2 L736.4 1068.5 L737.7 1064.6 L739.0 1064.0 L740.3 1068.3 L741.6 1068.4 L742.9 1068.1 L744.2 1066.9 L745.5 1067.5 L745.7 1068.7 L746.8 1071.3 L748.1 1067.4 L749.4 1065.1 L750.7 1069.6 L752.0 1069.4 L753.3 1069.0 L754.6 1068.9 L755.9 1071.6 L757.2 1068.5 L758.5 1067.4 L759.8 1063.7 L761.1 1064.9 L762.4 1065.4 L763.7 1066.6 L765.0 1067.0 L766.3 1066.1 L767.6 1069.0 L768.9 1065.0 L770.2 1065.2 L771.5 1066.1 L772.0 1065.7" fill="none" stroke="#000" stroke-width="4.0" stroke-linejoin="round"/>
<path d="M121.5 1174.6 L122.8 1175.1 L124.1 1174.0 L125.4 1176.6 L126.7 1174.0 L128.0 1172.8 L129.3 1170.1 L130.6 1168.4 L131.9 1169.9 L133.2 1170.5 L134.5 1170.6 L135.8 1171.3 L137.1 1166.2 L138.3 1169.4 L138.4 1167.2 L139.7 1171.6 L141.0 1169.1 L142.3 1167.9 L143.6 1167.3 L144.9 1169.9 L146.2 1168.2 L147.5 1167.6 L148.8 1164.7 L150.1 1169.0 L151.4 1168.6 L152.7 1168.5 L154.0 1168.9 L155.3 1166.3 L156.6 1165.8 L156.6 1166.4 L157.9 1166.3 L159.2 1164.6 L160.5 1164.2 L161.8 1163.3 L163.1 1164.9 L164.4 1164.9 L165.7 1163.6 L167.0 1164.8 L168.3 1159.3 L169.6 1160.7 L170.9 1163.4 L171.3 1160.2 L172.2 1157.2 L173.5 1160.9 L174.8 1158.9 L175.0 1157.3 L176.1 1159.0 L177.4 1157.2 L178.7 1157.2 L180.0 1160.0 L180.4 1161.0 L181.3 1158.2 L182.6 1158.0 L183.3 1158.5 L183.9 1155.0 L185.0 1148.6 L185.2 1151.0 L186.5 1157.3 L186.7 1158.9 L187.8 1158.0 L188.7 1162.2 L189.1 1164.9 L190.4 1162.9 L191.7 1159.7 L193.0 1160.3 L194.3 1157.1 L195.6 1158.8 L196.9 1156.7 L196.9 1157.2 L198.2 1158.5 L199.5 1157.6 L200.8 1158.3 L202.1 1156.9 L203.4 1159.2 L204.7 1163.4 L206.0 1168.6 L206.0 1161.3 L207.3 1160.4 L208.6 1159.0 L209.9 1161.3 L211.2 1157.5 L212.5 1158.4 L213.8 1160.2 L215.1 1158.9 L215.2 1161.3 L216.4 1163.4 L217.7 1160.8 L219.0 1160.5 L220.3 1159.8 L221.6 1160.7 L222.9 1164.7 L224.2 1166.3 L225.5 1166.5 L226.2 1166.1 L226.8 1164.5 L228.1 1163.8 L229.4 1160.1 L229.9 1162.3 L230.7 1164.1 L232.0 1161.7 L233.3 1156.4 L234.6 1154.6 L235.9 1155.9 L236.3 1153.2 L237.2 1151.5 L238.5 1154.7 L239.8 1158.9 L241.1 1162.4 L242.4 1161.9 L242.7 1163.5 L243.7 1163.9 L245.0 1167.8 L246.3 1165.2 L247.6 1163.5 L248.9 1163.5 L250.2 1166.0 L251.5 1165.3 L251.9 1163.7 L252.8 1162.0 L254.1 1157.7 L255.4 1155.8 L256.7 1152.8 L258.0 1150.6 L259.3 1149.5 L260.1 1149.8 L260.6 1152.0 L261.9 1154.8 L263.2 1154.7 L264.5 1155.6 L265.8 1159.8 L265.9 1158.5 L267.1 1156.9 L268.4 1163.1 L269.7 1165.4 L271.0 1166.8 L271.7 1165.5 L272.3 1162.8 L273.6 1163.9 L274.9 1165.3 L276.2 1163.0 L277.5 1162.0 L278.8 1160.6 L279.5 1163.1 L280.1 1165.1 L281.4 1164.8 L282.7 1161.9 L284.0 1161.9 L285.3 1163.6 L286.6 1165.4 L287.9 1163.3 L289.2 1164.0 L289.3 1164.3 L290.5 1162.6 L291.8 1166.2 L293.1 1166.9 L294.4 1163.5 L295.7 1164.0 L297.0 1166.6 L297.1 1165.5 L298.3 1164.3 L299.6 1165.7 L300.9 1165.5 L302.2 1166.6 L303.5 1165.4 L304.8 1162.6 L306.1 1162.6 L307.4 1162.0 L308.7 1159.4 L310.0 1160.0 L310.8 1162.0 L311.3 1159.4 L312.6 1162.5 L313.9 1161.7 L315.2 1160.5 L316.5 1161.2 L317.8 1161.3 L319.1 1161.6 L320.4 1158.6 L321.7 1157.9 L323.0 1158.4 L324.3 1161.6 L324.5 1158.5 L325.6 1155.8 L326.9 1155.3 L328.2 1154.5 L329.5 1155.1 L330.8 1155.9 L332.1 1157.6 L332.3 1153.4 L333.4 1154.6 L334.7 1153.5 L336.0 1150.7 L337.3 1150.4 L337.7 1150.7 L338.6 1107.3 L339.1 1083.0 L339.9 1118.1 L340.5 1148.6 L341.2 1148.8 L342.5 1151.8 L343.8 1151.6 L345.1 1153.1 L346.4 1153.1 L347.7 1154.0 L347.9 1152.0 L349.0 1150.9 L350.3 1153.6 L351.6 1155.0 L352.9 1156.3 L354.2 1150.3 L355.5 1152.7 L356.8 1155.1 L357.7 1153.4 L358.1 1153.8 L359.4 1158.1 L360.7 1156.7 L362.0 1153.0 L363.3 1156.1 L364.6 1156.2 L365.9 1155.1 L367.2 1154.0 L368.5 1153.1 L369.8 1151.0 L371.1 1151.5 L372.4 1153.6 L373.7 1153.5 L375.0 1155.4 L376.3 1151.2 L377.2 1150.6 L377.6 1150.4 L378.9 1152.3 L380.2 1152.5 L381.5 1151.5 L382.8 1150.5 L384.1 1153.4 L385.4 1150.8 L386.7 1151.9 L388.0 1150.2 L389.3 1149.0 L390.6 1151.8 L391.9 1146.1 L393.2 1148.0 L394.5 1150.6 L395.8 1149.9 L396.7 1150.4 L397.1 1149.9 L398.4 1149.8 L399.7 1153.3 L401.0 1149.8 L402.3 1148.4 L403.6 1146.7 L404.9 1147.3 L406.2 1149.8 L407.5 1149.8 L408.8 1148.3 L410.0 1147.9 L410.1 1148.5 L411.4 1145.5 L412.7 1147.3 L414.0 1148.0 L415.3 1147.6 L416.6 1149.2 L417.9 1148.3 L419.2 1149.0 L420.5 1153.5 L421.8 1153.1 L423.1 1153.3 L424.4 1152.0 L425.7 1153.4 L427.0 1153.9 L428.3 1155.3 L428.3 1153.3 L429.6 1151.9 L430.9 1151.0 L432.2 1148.7 L433.5 1142.4 L434.8 1144.9 L436.1 1147.9 L437.4 1148.5 L438.7 1146.6 L440.0 1148.7 L441.3 1148.3 L442.6 1145.4 L443.9 1147.6 L443.9 1145.7 L445.2 1145.6 L446.5 1143.5 L447.8 1146.7 L449.1 1144.6 L450.4 1143.8 L451.7 1144.3 L453.0 1144.0 L454.3 1146.5 L455.6 1146.8 L456.9 1147.2 L458.2 1145.7 L459.5 1143.2 L460.8 1144.2 L462.1 1145.9 L463.4 1145.2 L464.7 1149.6 L465.0 1144.6 L466.0 1144.0 L467.3 1147.1 L468.6 1147.0 L469.9 1145.6 L471.2 1145.5 L472.5 1147.0 L473.8 1148.3 L475.1 1148.1 L476.4 1146.7 L477.7 1148.1 L479.0 1149.3 L480.3 1148.1 L481.6 1142.2 L482.9 1145.0 L483.3 1147.6 L484.2 1146.8 L485.5 1147.0 L486.8 1147.4 L488.1 1145.8 L489.4 1143.3 L490.7 1142.9 L492.0 1144.2 L492.4 1140.8 L493.3 1141.5 L494.6 1143.2 L495.9 1140.1 L497.2 1135.8 L497.9 1138.9 L498.5 1138.1 L499.8 1138.0 L500.8 1138.0 L501.1 1137.2 L502.4 1130.4 L502.5 1130.4 L503.7 1139.5 L504.2 1142.0 L505.0 1143.6 L506.2 1144.6 L506.3 1143.1 L507.6 1134.1 L508.9 1125.7 L508.9 1125.5 L510.2 1137.8 L510.6 1144.8 L511.5 1145.2 L512.8 1146.3 L514.1 1147.6 L514.4 1148.2 L515.4 1146.8 L516.7 1144.5 L518.0 1141.7 L519.3 1141.9 L520.6 1138.4 L521.7 1137.5 L521.9 1133.7 L523.2 1134.9 L524.5 1138.5 L525.8 1137.1 L527.1 1136.1 L528.4 1137.2 L529.0 1136.7 L529.7 1135.3 L531.0 1130.9 L532.3 1131.8 L532.3 1133.4 L533.6 1122.8 L534.0 1118.4 L534.9 1125.0 L535.7 1133.0 L536.2 1131.6 L537.5 1129.6 L538.2 1134.0 L538.8 1136.8 L540.1 1134.2 L541.4 1131.5 L542.7 1130.0 L544.0 1129.3 L545.3 1132.1 L545.5 1130.2 L546.6 1134.4 L547.9 1132.3 L549.2 1130.4 L550.5 1136.5 L551.8 1137.2 L552.9 1139.0 L553.1 1141.8 L554.4 1140.4 L555.7 1142.5 L557.0 1141.3 L558.3 1140.6 L559.6 1142.9 L560.0 1142.6 L560.9 1145.2 L562.2 1145.3 L563.5 1143.9 L564.8 1144.7 L566.1 1144.7 L567.4 1143.8 L568.7 1145.3 L570.0 1144.2 L571.3 1144.9 L572.6 1143.0 L573.3 1144.5 L573.9 1145.0 L575.2 1143.1 L576.5 1143.2 L577.8 1143.7 L579.1 1145.3 L580.4 1143.7 L581.7 1145.6 L583.0 1147.6 L584.3 1145.1 L585.6 1141.8 L586.9 1144.5 L588.2 1146.3 L589.5 1144.8 L590.8 1146.7 L591.6 1145.0 L592.1 1145.4 L593.4 1143.7 L594.7 1142.9 L596.0 1143.2 L597.3 1143.9 L598.6 1144.6 L599.9 1144.2 L601.2 1142.8 L602.5 1143.1 L603.8 1142.8 L605.1 1139.4 L606.4 1140.0 L607.7 1140.3 L609.0 1141.2 L610.0 1141.6 L610.3 1140.8 L611.6 1140.0 L612.9 1142.1 L614.2 1140.9 L615.5 1137.6 L616.8 1139.1 L618.1 1138.4 L619.4 1142.0 L620.7 1138.8 L622.0 1138.0 L623.3 1138.4 L624.6 1137.8 L625.9 1138.3 L627.2 1140.4 L628.3 1137.6 L628.5 1139.3 L629.8 1139.5 L631.1 1137.0 L632.4 1140.9 L633.7 1140.4 L635.0 1140.0 L636.3 1137.7 L637.6 1140.1 L638.9 1139.9 L639.2 1139.0 L640.2 1144.0 L641.5 1142.6 L642.8 1141.6 L644.1 1143.3 L645.4 1145.8 L646.6 1145.3 L646.7 1146.4 L648.0 1145.7 L649.3 1143.6 L650.6 1137.4 L651.9 1135.8 L652.1 1136.7 L653.2 1137.2 L654.5 1139.2 L655.8 1137.1 L657.1 1133.5 L658.4 1134.2 L659.7 1135.8 L661.0 1133.1 L661.2 1133.5 L662.3 1132.1 L663.6 1127.8 L664.9 1129.9 L664.9 1129.4 L666.2 1129.0 L667.5 1125.4 L668.8 1124.4 L670.1 1124.3 L671.4 1124.9 L672.7 1124.1 L674.0 1123.9 L675.3 1125.9 L675.9 1122.5 L676.6 1120.9 L677.9 1121.6 L679.2 1125.7 L680.5 1124.0 L681.8 1126.9 L683.1 1127.7 L683.2 1124.3 L684.4 1123.5 L685.7 1123.5 L687.0 1121.6 L688.3 1120.9 L689.3 1122.7 L689.6 1122.9 L690.9 1115.9 L691.0 1115.8 L692.2 1122.0 L692.7 1125.9 L693.5 1128.3 L694.8 1123.9 L696.1 1126.8 L696.4 1128.9 L697.4 1128.1 L698.7 1133.0 L700.0 1135.9 L701.3 1134.5 L701.3 1135.3 L702.6 1135.4 L703.9 1139.4 L705.2 1141.0 L706.3 1142.3 L706.5 1144.9 L707.8 1144.3 L709.1 1145.6 L710.4 1144.3 L711.7 1141.5 L712.8 1143.7 L713.0 1144.0 L714.3 1141.1 L715.6 1144.4 L716.9 1142.8 L718.2 1141.8 L719.5 1139.5 L720.8 1140.3 L722.1 1140.4 L723.4 1139.0 L724.7 1138.1 L726.0 1135.1 L727.3 1139.1 L728.6 1135.0 L729.3 1135.6 L729.9 1134.1 L731.2 1135.4 L732.5 1137.4 L733.8 1135.7 L735.1 1136.8 L736.4 1136.3 L737.7 1140.9 L739.0 1139.7 L740.3 1140.4 L741.6 1136.2 L742.9 1137.5 L744.2 1135.8 L745.5 1138.0 L745.7 1137.3 L746.8 1134.1 L748.1 1134.1 L749.4 1134.2 L750.7 1134.0 L752.0 1135.3 L753.3 1135.2 L754.6 1134.9 L755.9 1137.8 L757.2 1138.7 L758.5 1135.9 L759.8 1136.9 L761.1 1138.2 L762.4 1137.9 L763.7 1137.7 L765.0 1140.4 L766.3 1141.1 L767.6 1140.6 L768.9 1139.9 L770.2 1143.6 L771.5 1143.3 L772.0 1139.5" fill="none" stroke="#000" stroke-width="4.0" stroke-linejoin="round"/>
<text transform="translate(275.8,778.3) rotate(-90)" class="an">Li<tspan dy="8" font-size="14">2</tspan><tspan dy="-8">S (111)</tspan></text>
<text transform="translate(427.5,775.3) rotate(-90)" class="an">Li<tspan dy="8" font-size="14">2</tspan><tspan dy="-8">S (200)</tspan></text>
<text transform="translate(691,765.5) rotate(-90)" class="cb2">Al (111)</text>
<text transform="translate(771.5,788) rotate(-90)" class="cb3">Charging</text>
<path d="M792.1 696.5 V762" stroke="#000" stroke-width="3.4" stroke-linecap="round"/>
<path d="M787.3 758 L797.1 758 L792.2 774.8 Z" fill="#000" stroke="#000" stroke-width="1.3" stroke-linejoin="round"/>
<text x="784" y="819.5" class="cb">a</text>
<text x="784" y="852.7" class="cb">b</text>
<text x="784" y="882.4" class="cb">c</text>
<text x="784" y="915" class="cb">d</text>
<text x="784" y="945.6" class="cb">e</text>
<text x="784" y="979.4" class="cb">f</text>
<text x="784" y="1009" class="cb">g</text>
<text x="784" y="1073.8" class="cb">h</text>
<text x="784" y="1144.4" class="cb">i</text>
<text x="236.8" y="1149.2" text-anchor="middle" class="ast">*</text>
<text x="261.8" y="1148.6" text-anchor="middle" class="ast">*</text>
<text x="352.2" y="1110.2" text-anchor="middle" class="ast">*</text>
<text x="503.8" y="1125.7" text-anchor="middle" class="ast">*</text>
<text x="543.0" y="1123.9" text-anchor="middle" class="ast">*</text>
<text x="569.7" y="1172.9" text-anchor="middle" class="ast">*</text>
<text x="578.8" y="1176" class="nsr">new sulfur reflexes</text>
</svg>
</body></html>
